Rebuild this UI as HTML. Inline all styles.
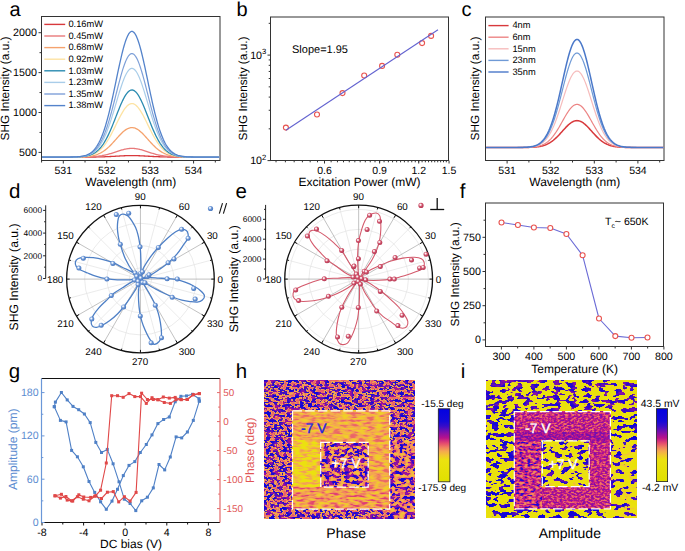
<!DOCTYPE html><html><head><meta charset="utf-8"><style>html,body{margin:0;padding:0;background:#fff;overflow:hidden}svg{display:block}</style></head><body><svg text-rendering="geometricPrecision" width="685" height="551" viewBox="0 0 685 551" font-family='"Liberation Sans", sans-serif'><rect width="685" height="551" fill="#fff"/>
<rect x="41.5" y="16.5" width="178.5" height="144" fill="none" stroke="#333" stroke-width="1" />
<line x1="63.3" y1="160.5" x2="63.3" y2="163.5" stroke="#333" stroke-width="1" />
<text x="63.3" y="174.1" font-size="10.5" text-anchor="middle" fill="#000" >531</text>
<line x1="106.73" y1="160.5" x2="106.73" y2="163.5" stroke="#333" stroke-width="1" />
<text x="106.73" y="174.1" font-size="10.5" text-anchor="middle" fill="#000" >532</text>
<line x1="150.16" y1="160.5" x2="150.16" y2="163.5" stroke="#333" stroke-width="1" />
<text x="150.16" y="174.1" font-size="10.5" text-anchor="middle" fill="#000" >533</text>
<line x1="193.59" y1="160.5" x2="193.59" y2="163.5" stroke="#333" stroke-width="1" />
<text x="193.59" y="174.1" font-size="10.5" text-anchor="middle" fill="#000" >534</text>
<line x1="41.58" y1="160.5" x2="41.58" y2="162.5" stroke="#333" stroke-width="1" />
<line x1="85.02" y1="160.5" x2="85.02" y2="162.5" stroke="#333" stroke-width="1" />
<line x1="128.44" y1="160.5" x2="128.44" y2="162.5" stroke="#333" stroke-width="1" />
<line x1="171.88" y1="160.5" x2="171.88" y2="162.5" stroke="#333" stroke-width="1" />
<line x1="215.31" y1="160.5" x2="215.31" y2="162.5" stroke="#333" stroke-width="1" />
<line x1="38.5" y1="152.4" x2="41.5" y2="152.4" stroke="#333" stroke-width="1" />
<text x="36.9" y="155.8" font-size="10.7" text-anchor="end" fill="#000" >500</text>
<line x1="38.5" y1="112.5" x2="41.5" y2="112.5" stroke="#333" stroke-width="1" />
<text x="36.9" y="115.9" font-size="10.7" text-anchor="end" fill="#000" >1000</text>
<line x1="38.5" y1="72.6" x2="41.5" y2="72.6" stroke="#333" stroke-width="1" />
<text x="36.9" y="76" font-size="10.7" text-anchor="end" fill="#000" >1500</text>
<line x1="38.5" y1="32.7" x2="41.5" y2="32.7" stroke="#333" stroke-width="1" />
<text x="36.9" y="36.1" font-size="10.7" text-anchor="end" fill="#000" >2000</text>
<line x1="39.5" y1="132.45" x2="41.5" y2="132.45" stroke="#333" stroke-width="1" />
<line x1="39.5" y1="92.55" x2="41.5" y2="92.55" stroke="#333" stroke-width="1" />
<line x1="39.5" y1="52.65" x2="41.5" y2="52.65" stroke="#333" stroke-width="1" />
<text x="130.75" y="186.3" font-size="12" text-anchor="middle" fill="#000" >Wavelength (nm)</text>
<text transform="translate(9.1,140.5) rotate(-90)" font-size="11.85" fill="#000">SHG Intensity (a.u.)</text>
<text x="9.5" y="15.5" font-size="20" text-anchor="start" fill="#000" >a</text>
<polyline points="42.1,157.1 42.84,157.1 43.58,157.1 44.32,157.1 45.05,157.1 45.79,157.1 46.53,157.1 47.27,157.1 48.01,157.1 48.75,157.1 49.49,157.1 50.23,157.1 50.97,157.1 51.7,157.1 52.44,157.1 53.18,157.1 53.92,157.1 54.66,157.1 55.4,157.1 56.14,157.1 56.88,157.1 57.61,157.1 58.35,157.1 59.09,157.1 59.83,157.1 60.57,157.1 61.31,157.1 62.05,157.1 62.79,157.1 63.52,157.1 64.26,157.1 65,157.1 65.74,157.1 66.48,157.1 67.22,157.1 67.96,157.1 68.7,157.1 69.43,157.1 70.17,157.1 70.91,157.1 71.65,157.1 72.39,157.1 73.13,157.1 73.87,157.1 74.61,157.1 75.34,157.1 76.08,157.1 76.82,157.1 77.56,157.1 78.3,157.1 79.04,157.09 79.78,157.09 80.52,157.09 81.25,157.09 81.99,157.09 82.73,157.09 83.47,157.09 84.21,157.08 84.95,157.08 85.69,157.08 86.43,157.08 87.16,157.07 87.9,157.07 88.64,157.06 89.38,157.06 90.12,157.05 90.86,157.05 91.6,157.04 92.34,157.03 93.07,157.03 93.81,157.02 94.55,157.01 95.29,157 96.03,156.98 96.77,156.97 97.51,156.96 98.25,156.94 98.98,156.93 99.72,156.91 100.46,156.89 101.2,156.87 101.94,156.85 102.68,156.83 103.42,156.8 104.16,156.78 104.89,156.75 105.63,156.72 106.37,156.69 107.11,156.66 107.85,156.63 108.59,156.59 109.33,156.56 110.06,156.52 110.8,156.48 111.54,156.44 112.28,156.4 113.02,156.36 113.76,156.32 114.5,156.28 115.24,156.24 115.97,156.2 116.71,156.15 117.45,156.11 118.19,156.07 118.93,156.03 119.67,155.99 120.41,155.95 121.15,155.91 121.89,155.87 122.62,155.84 123.36,155.8 124.1,155.77 124.84,155.74 125.58,155.72 126.32,155.69 127.06,155.67 127.8,155.65 128.53,155.63 129.27,155.62 130.01,155.61 130.75,155.6 131.49,155.6 132.23,155.6 132.97,155.6 133.71,155.61 134.44,155.62 135.18,155.63 135.92,155.65 136.66,155.67 137.4,155.69 138.14,155.71 138.88,155.74 139.62,155.77 140.35,155.8 141.09,155.83 141.83,155.87 142.57,155.9 143.31,155.94 144.05,155.98 144.79,156.02 145.53,156.06 146.26,156.1 147,156.15 147.74,156.19 148.48,156.23 149.22,156.27 149.96,156.31 150.7,156.36 151.44,156.4 152.17,156.44 152.91,156.48 153.65,156.51 154.39,156.55 155.13,156.59 155.87,156.62 156.61,156.65 157.35,156.69 158.08,156.72 158.82,156.74 159.56,156.77 160.3,156.8 161.04,156.82 161.78,156.85 162.52,156.87 163.25,156.89 163.99,156.91 164.73,156.92 165.47,156.94 166.21,156.96 166.95,156.97 167.69,156.98 168.43,156.99 169.17,157.01 169.9,157.02 170.64,157.02 171.38,157.03 172.12,157.04 172.86,157.05 173.6,157.05 174.34,157.06 175.08,157.06 175.81,157.07 176.55,157.07 177.29,157.08 178.03,157.08 178.77,157.08 179.51,157.08 180.25,157.09 180.99,157.09 181.72,157.09 182.46,157.09 183.2,157.09 183.94,157.09 184.68,157.09 185.42,157.09 186.16,157.1 186.9,157.1 187.63,157.1 188.37,157.1 189.11,157.1 189.85,157.1 190.59,157.1 191.33,157.1 192.07,157.1 192.81,157.1 193.54,157.1 194.28,157.1 195.02,157.1 195.76,157.1 196.5,157.1 197.24,157.1 197.98,157.1 198.72,157.1 199.45,157.1 200.19,157.1 200.93,157.1 201.67,157.1 202.41,157.1 203.15,157.1 203.89,157.1 204.62,157.1 205.36,157.1 206.1,157.1 206.84,157.1 207.58,157.1 208.32,157.1 209.06,157.1 209.8,157.1 210.53,157.1 211.27,157.1 212.01,157.1 212.75,157.1 213.49,157.1 214.23,157.1 214.97,157.1 215.71,157.1 216.44,157.1 217.18,157.1 217.92,157.1 218.66,157.1 219.4,157.1" fill="none" stroke="#d8393c" stroke-width="1.3" stroke-linejoin="round" />
<polyline points="42.1,157.1 42.84,157.1 43.58,157.1 44.32,157.1 45.05,157.1 45.79,157.1 46.53,157.1 47.27,157.1 48.01,157.1 48.75,157.1 49.49,157.1 50.23,157.1 50.97,157.1 51.7,157.1 52.44,157.1 53.18,157.1 53.92,157.1 54.66,157.1 55.4,157.1 56.14,157.1 56.88,157.1 57.61,157.1 58.35,157.1 59.09,157.1 59.83,157.1 60.57,157.1 61.31,157.1 62.05,157.1 62.79,157.1 63.52,157.1 64.26,157.1 65,157.1 65.74,157.1 66.48,157.1 67.22,157.1 67.96,157.1 68.7,157.1 69.43,157.1 70.17,157.1 70.91,157.09 71.65,157.09 72.39,157.09 73.13,157.09 73.87,157.09 74.61,157.09 75.34,157.09 76.08,157.08 76.82,157.08 77.56,157.08 78.3,157.07 79.04,157.07 79.78,157.06 80.52,157.05 81.25,157.05 81.99,157.04 82.73,157.03 83.47,157.02 84.21,157.01 84.95,156.99 85.69,156.98 86.43,156.96 87.16,156.94 87.9,156.92 88.64,156.89 89.38,156.86 90.12,156.83 90.86,156.8 91.6,156.76 92.34,156.71 93.07,156.67 93.81,156.62 94.55,156.56 95.29,156.5 96.03,156.43 96.77,156.36 97.51,156.28 98.25,156.19 98.98,156.1 99.72,155.99 100.46,155.89 101.2,155.77 101.94,155.65 102.68,155.51 103.42,155.37 104.16,155.22 104.89,155.07 105.63,154.9 106.37,154.73 107.11,154.54 107.85,154.35 108.59,154.15 109.33,153.95 110.06,153.74 110.8,153.52 111.54,153.29 112.28,153.06 113.02,152.83 113.76,152.59 114.5,152.34 115.24,152.1 115.97,151.85 116.71,151.61 117.45,151.36 118.19,151.12 118.93,150.88 119.67,150.65 120.41,150.42 121.15,150.19 121.89,149.98 122.62,149.77 123.36,149.58 124.1,149.4 124.84,149.23 125.58,149.07 126.32,148.93 127.06,148.8 127.8,148.69 128.53,148.6 129.27,148.52 130.01,148.46 130.75,148.42 131.49,148.4 132.23,148.4 132.97,148.42 133.71,148.46 134.44,148.51 135.18,148.58 135.92,148.67 136.66,148.78 137.4,148.9 138.14,149.04 138.88,149.2 139.62,149.37 140.35,149.55 141.09,149.74 141.83,149.94 142.57,150.16 143.31,150.38 144.05,150.61 144.79,150.84 145.53,151.08 146.26,151.32 147,151.57 147.74,151.81 148.48,152.06 149.22,152.3 149.96,152.55 150.7,152.79 151.44,153.02 152.17,153.25 152.91,153.48 153.65,153.7 154.39,153.91 155.13,154.12 155.87,154.32 156.61,154.51 157.35,154.7 158.08,154.87 158.82,155.04 159.56,155.2 160.3,155.35 161.04,155.49 161.78,155.62 162.52,155.75 163.25,155.87 163.99,155.98 164.73,156.08 165.47,156.17 166.21,156.26 166.95,156.34 167.69,156.42 168.43,156.49 169.17,156.55 169.9,156.61 170.64,156.66 171.38,156.71 172.12,156.75 172.86,156.79 173.6,156.83 174.34,156.86 175.08,156.89 175.81,156.91 176.55,156.93 177.29,156.96 178.03,156.97 178.77,156.99 179.51,157 180.25,157.02 180.99,157.03 181.72,157.04 182.46,157.05 183.2,157.05 183.94,157.06 184.68,157.07 185.42,157.07 186.16,157.08 186.9,157.08 187.63,157.08 188.37,157.08 189.11,157.09 189.85,157.09 190.59,157.09 191.33,157.09 192.07,157.09 192.81,157.09 193.54,157.1 194.28,157.1 195.02,157.1 195.76,157.1 196.5,157.1 197.24,157.1 197.98,157.1 198.72,157.1 199.45,157.1 200.19,157.1 200.93,157.1 201.67,157.1 202.41,157.1 203.15,157.1 203.89,157.1 204.62,157.1 205.36,157.1 206.1,157.1 206.84,157.1 207.58,157.1 208.32,157.1 209.06,157.1 209.8,157.1 210.53,157.1 211.27,157.1 212.01,157.1 212.75,157.1 213.49,157.1 214.23,157.1 214.97,157.1 215.71,157.1 216.44,157.1 217.18,157.1 217.92,157.1 218.66,157.1 219.4,157.1" fill="none" stroke="#e8797a" stroke-width="1.3" stroke-linejoin="round" />
<polyline points="42.1,157.1 42.84,157.1 43.58,157.1 44.32,157.1 45.05,157.1 45.79,157.1 46.53,157.1 47.27,157.1 48.01,157.1 48.75,157.1 49.49,157.1 50.23,157.1 50.97,157.1 51.7,157.1 52.44,157.1 53.18,157.1 53.92,157.1 54.66,157.1 55.4,157.1 56.14,157.1 56.88,157.1 57.61,157.1 58.35,157.1 59.09,157.1 59.83,157.1 60.57,157.1 61.31,157.1 62.05,157.1 62.79,157.1 63.52,157.1 64.26,157.1 65,157.1 65.74,157.1 66.48,157.09 67.22,157.09 67.96,157.09 68.7,157.09 69.43,157.09 70.17,157.09 70.91,157.08 71.65,157.08 72.39,157.07 73.13,157.07 73.87,157.06 74.61,157.06 75.34,157.05 76.08,157.04 76.82,157.03 77.56,157.02 78.3,157 79.04,156.99 79.78,156.97 80.52,156.95 81.25,156.92 81.99,156.89 82.73,156.86 83.47,156.82 84.21,156.78 84.95,156.73 85.69,156.68 86.43,156.62 87.16,156.55 87.9,156.48 88.64,156.39 89.38,156.29 90.12,156.19 90.86,156.07 91.6,155.94 92.34,155.79 93.07,155.64 93.81,155.46 94.55,155.27 95.29,155.06 96.03,154.83 96.77,154.58 97.51,154.3 98.25,154.01 98.98,153.69 99.72,153.35 100.46,152.98 101.2,152.59 101.94,152.17 102.68,151.72 103.42,151.24 104.16,150.74 104.89,150.2 105.63,149.64 106.37,149.05 107.11,148.43 107.85,147.79 108.59,147.11 109.33,146.42 110.06,145.7 110.8,144.95 111.54,144.19 112.28,143.41 113.02,142.61 113.76,141.8 114.5,140.97 115.24,140.14 115.97,139.31 116.71,138.48 117.45,137.65 118.19,136.82 118.93,136.01 119.67,135.22 120.41,134.44 121.15,133.68 121.89,132.96 122.62,132.26 123.36,131.6 124.1,130.98 124.84,130.4 125.58,129.87 126.32,129.39 127.06,128.96 127.8,128.58 128.53,128.27 129.27,128.01 130.01,127.81 130.75,127.68 131.49,127.61 132.23,127.61 132.97,127.66 133.71,127.79 134.44,127.97 135.18,128.22 135.92,128.53 136.66,128.89 137.4,129.31 138.14,129.78 138.88,130.31 139.62,130.88 140.35,131.49 141.09,132.15 141.83,132.84 142.57,133.56 143.31,134.31 144.05,135.09 144.79,135.88 145.53,136.69 146.26,137.51 147,138.34 147.74,139.17 148.48,140.01 149.22,140.84 149.96,141.66 150.7,142.47 151.44,143.27 152.17,144.06 152.91,144.83 153.65,145.57 154.39,146.3 155.13,147 155.87,147.68 156.61,148.33 157.35,148.95 158.08,149.54 158.82,150.11 159.56,150.65 160.3,151.16 161.04,151.64 161.78,152.09 162.52,152.52 163.25,152.92 163.99,153.29 164.73,153.64 165.47,153.96 166.21,154.26 166.95,154.53 167.69,154.79 168.43,155.02 169.17,155.23 169.9,155.43 170.64,155.61 171.38,155.77 172.12,155.92 172.86,156.05 173.6,156.17 174.34,156.28 175.08,156.37 175.81,156.46 176.55,156.54 177.29,156.61 178.03,156.67 178.77,156.73 179.51,156.77 180.25,156.82 180.99,156.85 181.72,156.89 182.46,156.92 183.2,156.94 183.94,156.96 184.68,156.98 185.42,157 186.16,157.02 186.9,157.03 187.63,157.04 188.37,157.05 189.11,157.06 189.85,157.06 190.59,157.07 191.33,157.07 192.07,157.08 192.81,157.08 193.54,157.08 194.28,157.09 195.02,157.09 195.76,157.09 196.5,157.09 197.24,157.09 197.98,157.09 198.72,157.1 199.45,157.1 200.19,157.1 200.93,157.1 201.67,157.1 202.41,157.1 203.15,157.1 203.89,157.1 204.62,157.1 205.36,157.1 206.1,157.1 206.84,157.1 207.58,157.1 208.32,157.1 209.06,157.1 209.8,157.1 210.53,157.1 211.27,157.1 212.01,157.1 212.75,157.1 213.49,157.1 214.23,157.1 214.97,157.1 215.71,157.1 216.44,157.1 217.18,157.1 217.92,157.1 218.66,157.1 219.4,157.1" fill="none" stroke="#f5a36e" stroke-width="1.3" stroke-linejoin="round" />
<polyline points="42.1,157.1 42.84,157.1 43.58,157.1 44.32,157.1 45.05,157.1 45.79,157.1 46.53,157.1 47.27,157.1 48.01,157.1 48.75,157.1 49.49,157.1 50.23,157.1 50.97,157.1 51.7,157.1 52.44,157.1 53.18,157.1 53.92,157.1 54.66,157.1 55.4,157.1 56.14,157.1 56.88,157.1 57.61,157.1 58.35,157.1 59.09,157.1 59.83,157.1 60.57,157.1 61.31,157.1 62.05,157.1 62.79,157.1 63.52,157.1 64.26,157.09 65,157.09 65.74,157.09 66.48,157.09 67.22,157.09 67.96,157.08 68.7,157.08 69.43,157.08 70.17,157.07 70.91,157.07 71.65,157.06 72.39,157.05 73.13,157.04 73.87,157.03 74.61,157.02 75.34,157.01 76.08,156.99 76.82,156.97 77.56,156.95 78.3,156.92 79.04,156.89 79.78,156.86 80.52,156.82 81.25,156.78 81.99,156.72 82.73,156.67 83.47,156.6 84.21,156.52 84.95,156.44 85.69,156.34 86.43,156.23 87.16,156.11 87.9,155.97 88.64,155.81 89.38,155.64 90.12,155.45 90.86,155.23 91.6,154.99 92.34,154.73 93.07,154.44 93.81,154.12 94.55,153.78 95.29,153.39 96.03,152.98 96.77,152.52 97.51,152.03 98.25,151.5 98.98,150.92 99.72,150.3 100.46,149.63 101.2,148.92 101.94,148.15 102.68,147.34 103.42,146.48 104.16,145.56 104.89,144.59 105.63,143.57 106.37,142.5 107.11,141.38 107.85,140.21 108.59,138.99 109.33,137.72 110.06,136.42 110.8,135.07 111.54,133.68 112.28,132.26 113.02,130.82 113.76,129.34 114.5,127.85 115.24,126.35 115.97,124.84 116.71,123.33 117.45,121.82 118.19,120.33 118.93,118.86 119.67,117.41 120.41,116 121.15,114.63 121.89,113.31 122.62,112.05 123.36,110.85 124.1,109.73 124.84,108.68 125.58,107.71 126.32,106.84 127.06,106.06 127.8,105.38 128.53,104.81 129.27,104.34 130.01,103.99 130.75,103.75 131.49,103.62 132.23,103.61 132.97,103.72 133.71,103.94 134.44,104.27 135.18,104.72 135.92,105.28 136.66,105.94 137.4,106.7 138.14,107.56 138.88,108.51 139.62,109.55 140.35,110.66 141.09,111.85 141.83,113.1 142.57,114.41 143.31,115.77 144.05,117.17 144.79,118.62 145.53,120.08 146.26,121.57 147,123.08 147.74,124.59 148.48,126.1 149.22,127.61 149.96,129.1 150.7,130.57 151.44,132.03 152.17,133.45 152.91,134.84 153.65,136.2 154.39,137.51 155.13,138.78 155.87,140.01 156.61,141.19 157.35,142.32 158.08,143.4 158.82,144.43 159.56,145.4 160.3,146.33 161.04,147.2 161.78,148.02 162.52,148.79 163.25,149.52 163.99,150.19 164.73,150.82 165.47,151.4 166.21,151.94 166.95,152.44 167.69,152.9 168.43,153.33 169.17,153.71 169.9,154.07 170.64,154.39 171.38,154.69 172.12,154.95 172.86,155.19 173.6,155.41 174.34,155.61 175.08,155.78 175.81,155.94 176.55,156.08 177.29,156.21 178.03,156.32 178.77,156.42 179.51,156.51 180.25,156.59 180.99,156.66 181.72,156.72 182.46,156.77 183.2,156.81 183.94,156.85 184.68,156.89 185.42,156.92 186.16,156.95 186.9,156.97 187.63,156.99 188.37,157.01 189.11,157.02 189.85,157.03 190.59,157.04 191.33,157.05 192.07,157.06 192.81,157.07 193.54,157.07 194.28,157.08 195.02,157.08 195.76,157.08 196.5,157.09 197.24,157.09 197.98,157.09 198.72,157.09 199.45,157.09 200.19,157.09 200.93,157.1 201.67,157.1 202.41,157.1 203.15,157.1 203.89,157.1 204.62,157.1 205.36,157.1 206.1,157.1 206.84,157.1 207.58,157.1 208.32,157.1 209.06,157.1 209.8,157.1 210.53,157.1 211.27,157.1 212.01,157.1 212.75,157.1 213.49,157.1 214.23,157.1 214.97,157.1 215.71,157.1 216.44,157.1 217.18,157.1 217.92,157.1 218.66,157.1 219.4,157.1" fill="none" stroke="#fde3a3" stroke-width="1.3" stroke-linejoin="round" />
<polyline points="42.1,157.1 42.84,157.1 43.58,157.1 44.32,157.1 45.05,157.1 45.79,157.1 46.53,157.1 47.27,157.1 48.01,157.1 48.75,157.1 49.49,157.1 50.23,157.1 50.97,157.1 51.7,157.1 52.44,157.1 53.18,157.1 53.92,157.1 54.66,157.1 55.4,157.1 56.14,157.1 56.88,157.1 57.61,157.1 58.35,157.1 59.09,157.1 59.83,157.1 60.57,157.1 61.31,157.1 62.05,157.1 62.79,157.1 63.52,157.09 64.26,157.09 65,157.09 65.74,157.09 66.48,157.09 67.22,157.08 67.96,157.08 68.7,157.08 69.43,157.07 70.17,157.07 70.91,157.06 71.65,157.05 72.39,157.04 73.13,157.03 73.87,157.02 74.61,157 75.34,156.98 76.08,156.96 76.82,156.94 77.56,156.91 78.3,156.88 79.04,156.84 79.78,156.8 80.52,156.75 81.25,156.69 81.99,156.63 82.73,156.56 83.47,156.47 84.21,156.38 84.95,156.27 85.69,156.15 86.43,156.01 87.16,155.85 87.9,155.68 88.64,155.49 89.38,155.27 90.12,155.03 90.86,154.76 91.6,154.46 92.34,154.13 93.07,153.77 93.81,153.37 94.55,152.93 95.29,152.45 96.03,151.93 96.77,151.36 97.51,150.74 98.25,150.07 98.98,149.35 99.72,148.57 100.46,147.73 101.2,146.84 101.94,145.88 102.68,144.86 103.42,143.78 104.16,142.63 104.89,141.41 105.63,140.13 106.37,138.79 107.11,137.38 107.85,135.91 108.59,134.39 109.33,132.8 110.06,131.16 110.8,129.47 111.54,127.73 112.28,125.95 113.02,124.13 113.76,122.29 114.5,120.42 115.24,118.53 115.97,116.64 116.71,114.74 117.45,112.86 118.19,110.98 118.93,109.14 119.67,107.32 120.41,105.55 121.15,103.84 121.89,102.18 122.62,100.6 123.36,99.1 124.1,97.68 124.84,96.37 125.58,95.16 126.32,94.06 127.06,93.08 127.8,92.23 128.53,91.51 129.27,90.93 130.01,90.48 130.75,90.18 131.49,90.02 132.23,90.01 132.97,90.15 133.71,90.42 134.44,90.85 135.18,91.41 135.92,92.1 136.66,92.93 137.4,93.89 138.14,94.97 138.88,96.16 139.62,97.46 140.35,98.86 141.09,100.34 141.83,101.91 142.57,103.56 143.31,105.26 144.05,107.03 144.79,108.83 145.53,110.67 146.26,112.54 147,114.43 147.74,116.32 148.48,118.22 149.22,120.11 149.96,121.98 150.7,123.83 151.44,125.65 152.17,127.44 152.91,129.18 153.65,130.88 154.39,132.53 155.13,134.13 155.87,135.67 156.61,137.14 157.35,138.56 158.08,139.92 158.82,141.2 159.56,142.43 160.3,143.59 161.04,144.68 161.78,145.72 162.52,146.68 163.25,147.59 163.99,148.44 164.73,149.22 165.47,149.96 166.21,150.63 166.95,151.26 167.69,151.84 168.43,152.37 169.17,152.85 169.9,153.3 170.64,153.7 171.38,154.07 172.12,154.41 172.86,154.71 173.6,154.98 174.34,155.23 175.08,155.45 175.81,155.65 176.55,155.83 177.29,155.98 178.03,156.12 178.77,156.25 179.51,156.36 180.25,156.46 180.99,156.54 181.72,156.62 182.46,156.68 183.2,156.74 183.94,156.79 184.68,156.84 185.42,156.87 186.16,156.91 186.9,156.94 187.63,156.96 188.37,156.98 189.11,157 189.85,157.02 190.59,157.03 191.33,157.04 192.07,157.05 192.81,157.06 193.54,157.06 194.28,157.07 195.02,157.08 195.76,157.08 196.5,157.08 197.24,157.09 197.98,157.09 198.72,157.09 199.45,157.09 200.19,157.09 200.93,157.09 201.67,157.1 202.41,157.1 203.15,157.1 203.89,157.1 204.62,157.1 205.36,157.1 206.1,157.1 206.84,157.1 207.58,157.1 208.32,157.1 209.06,157.1 209.8,157.1 210.53,157.1 211.27,157.1 212.01,157.1 212.75,157.1 213.49,157.1 214.23,157.1 214.97,157.1 215.71,157.1 216.44,157.1 217.18,157.1 217.92,157.1 218.66,157.1 219.4,157.1" fill="none" stroke="#2a8bb0" stroke-width="1.3" stroke-linejoin="round" />
<polyline points="42.1,157.1 42.84,157.1 43.58,157.1 44.32,157.1 45.05,157.1 45.79,157.1 46.53,157.1 47.27,157.1 48.01,157.1 48.75,157.1 49.49,157.1 50.23,157.1 50.97,157.1 51.7,157.1 52.44,157.1 53.18,157.1 53.92,157.1 54.66,157.1 55.4,157.1 56.14,157.1 56.88,157.1 57.61,157.1 58.35,157.1 59.09,157.1 59.83,157.1 60.57,157.1 61.31,157.1 62.05,157.09 62.79,157.09 63.52,157.09 64.26,157.09 65,157.09 65.74,157.09 66.48,157.08 67.22,157.08 67.96,157.07 68.7,157.07 69.43,157.06 70.17,157.06 70.91,157.05 71.65,157.04 72.39,157.02 73.13,157.01 73.87,156.99 74.61,156.97 75.34,156.95 76.08,156.92 76.82,156.89 77.56,156.85 78.3,156.81 79.04,156.76 79.78,156.7 80.52,156.64 81.25,156.56 81.99,156.48 82.73,156.38 83.47,156.27 84.21,156.14 84.95,156 85.69,155.84 86.43,155.66 87.16,155.45 87.9,155.22 88.64,154.97 89.38,154.68 90.12,154.36 90.86,154 91.6,153.61 92.34,153.17 93.07,152.7 93.81,152.17 94.55,151.59 95.29,150.96 96.03,150.26 96.77,149.51 97.51,148.69 98.25,147.81 98.98,146.85 99.72,145.83 100.46,144.72 101.2,143.53 101.94,142.27 102.68,140.92 103.42,139.49 104.16,137.97 104.89,136.36 105.63,134.67 106.37,132.9 107.11,131.04 107.85,129.09 108.59,127.07 109.33,124.98 110.06,122.81 110.8,120.57 111.54,118.27 112.28,115.92 113.02,113.52 113.76,111.08 114.5,108.61 115.24,106.12 115.97,103.61 116.71,101.11 117.45,98.61 118.19,96.14 118.93,93.7 119.67,91.3 120.41,88.96 121.15,86.69 121.89,84.5 122.62,82.41 123.36,80.43 124.1,78.56 124.84,76.82 125.58,75.22 126.32,73.77 127.06,72.48 127.8,71.35 128.53,70.4 129.27,69.63 130.01,69.04 130.75,68.64 131.49,68.43 132.23,68.42 132.97,68.59 133.71,68.96 134.44,69.52 135.18,70.26 135.92,71.18 136.66,72.28 137.4,73.54 138.14,74.97 138.88,76.54 139.62,78.26 140.35,80.11 141.09,82.07 141.83,84.15 142.57,86.32 143.31,88.58 144.05,90.91 144.79,93.29 145.53,95.73 146.26,98.2 147,100.69 147.74,103.2 148.48,105.7 149.22,108.2 149.96,110.67 150.7,113.12 151.44,115.53 152.17,117.89 152.91,120.2 153.65,122.44 154.39,124.62 155.13,126.73 155.87,128.76 156.61,130.72 157.35,132.59 158.08,134.38 158.82,136.09 159.56,137.71 160.3,139.24 161.04,140.69 161.78,142.05 162.52,143.33 163.25,144.53 163.99,145.65 164.73,146.69 165.47,147.66 166.21,148.55 166.95,149.38 167.69,150.14 168.43,150.84 169.17,151.49 169.9,152.08 170.64,152.61 171.38,153.1 172.12,153.54 172.86,153.94 173.6,154.3 174.34,154.63 175.08,154.92 175.81,155.18 176.55,155.42 177.29,155.62 178.03,155.81 178.77,155.97 179.51,156.12 180.25,156.25 180.99,156.36 181.72,156.46 182.46,156.55 183.2,156.63 183.94,156.69 184.68,156.75 185.42,156.8 186.16,156.85 186.9,156.88 187.63,156.92 188.37,156.94 189.11,156.97 189.85,156.99 190.59,157.01 191.33,157.02 192.07,157.03 192.81,157.04 193.54,157.05 194.28,157.06 195.02,157.07 195.76,157.07 196.5,157.08 197.24,157.08 197.98,157.08 198.72,157.09 199.45,157.09 200.19,157.09 200.93,157.09 201.67,157.09 202.41,157.1 203.15,157.1 203.89,157.1 204.62,157.1 205.36,157.1 206.1,157.1 206.84,157.1 207.58,157.1 208.32,157.1 209.06,157.1 209.8,157.1 210.53,157.1 211.27,157.1 212.01,157.1 212.75,157.1 213.49,157.1 214.23,157.1 214.97,157.1 215.71,157.1 216.44,157.1 217.18,157.1 217.92,157.1 218.66,157.1 219.4,157.1" fill="none" stroke="#a9cde9" stroke-width="1.2" stroke-linejoin="round" />
<polyline points="42.1,157.1 42.84,157.1 43.58,157.1 44.32,157.1 45.05,157.1 45.79,157.1 46.53,157.1 47.27,157.1 48.01,157.1 48.75,157.1 49.49,157.1 50.23,157.1 50.97,157.1 51.7,157.1 52.44,157.1 53.18,157.1 53.92,157.1 54.66,157.1 55.4,157.1 56.14,157.1 56.88,157.1 57.61,157.1 58.35,157.1 59.09,157.1 59.83,157.1 60.57,157.1 61.31,157.09 62.05,157.09 62.79,157.09 63.52,157.09 64.26,157.09 65,157.09 65.74,157.08 66.48,157.08 67.22,157.08 67.96,157.07 68.7,157.06 69.43,157.06 70.17,157.05 70.91,157.04 71.65,157.02 72.39,157.01 73.13,156.99 73.87,156.97 74.61,156.95 75.34,156.92 76.08,156.89 76.82,156.85 77.56,156.81 78.3,156.76 79.04,156.7 79.78,156.64 80.52,156.56 81.25,156.47 81.99,156.37 82.73,156.26 83.47,156.13 84.21,155.98 84.95,155.82 85.69,155.63 86.43,155.42 87.16,155.18 87.9,154.91 88.64,154.61 89.38,154.27 90.12,153.9 90.86,153.49 91.6,153.03 92.34,152.52 93.07,151.96 93.81,151.34 94.55,150.67 95.29,149.93 96.03,149.12 96.77,148.25 97.51,147.29 98.25,146.26 98.98,145.15 99.72,143.94 100.46,142.65 101.2,141.27 101.94,139.79 102.68,138.22 103.42,136.55 104.16,134.77 104.89,132.9 105.63,130.93 106.37,128.86 107.11,126.69 107.85,124.42 108.59,122.06 109.33,119.62 110.06,117.09 110.8,114.48 111.54,111.8 112.28,109.05 113.02,106.25 113.76,103.4 114.5,100.52 115.24,97.61 115.97,94.69 116.71,91.77 117.45,88.85 118.19,85.97 118.93,83.12 119.67,80.32 120.41,77.59 121.15,74.94 121.89,72.39 122.62,69.95 123.36,67.63 124.1,65.45 124.84,63.42 125.58,61.56 126.32,59.87 127.06,58.36 127.8,57.04 128.53,55.93 129.27,55.03 130.01,54.35 130.75,53.88 131.49,53.64 132.23,53.62 132.97,53.83 133.71,54.25 134.44,54.9 135.18,55.77 135.92,56.85 136.66,58.13 137.4,59.6 138.14,61.26 138.88,63.1 139.62,65.11 140.35,67.26 141.09,69.56 141.83,71.98 142.57,74.51 143.31,77.15 144.05,79.86 144.79,82.65 145.53,85.49 146.26,88.37 147,91.28 147.74,94.2 148.48,97.13 149.22,100.04 149.96,102.93 150.7,105.78 151.44,108.59 152.17,111.35 152.91,114.04 153.65,116.66 154.39,119.2 155.13,121.66 155.87,124.04 156.61,126.32 157.35,128.5 158.08,130.59 158.82,132.58 159.56,134.47 160.3,136.26 161.04,137.95 161.78,139.54 162.52,141.03 163.25,142.43 163.99,143.74 164.73,144.95 165.47,146.08 166.21,147.13 166.95,148.09 167.69,148.98 168.43,149.8 169.17,150.55 169.9,151.24 170.64,151.86 171.38,152.43 172.12,152.95 172.86,153.41 173.6,153.84 174.34,154.21 175.08,154.56 175.81,154.86 176.55,155.13 177.29,155.38 178.03,155.59 178.77,155.79 179.51,155.96 180.25,156.11 180.99,156.24 181.72,156.36 182.46,156.46 183.2,156.55 183.94,156.63 184.68,156.69 185.42,156.75 186.16,156.8 186.9,156.85 187.63,156.88 188.37,156.92 189.11,156.95 189.85,156.97 190.59,156.99 191.33,157.01 192.07,157.02 192.81,157.04 193.54,157.05 194.28,157.05 195.02,157.06 195.76,157.07 196.5,157.07 197.24,157.08 197.98,157.08 198.72,157.09 199.45,157.09 200.19,157.09 200.93,157.09 201.67,157.09 202.41,157.09 203.15,157.1 203.89,157.1 204.62,157.1 205.36,157.1 206.1,157.1 206.84,157.1 207.58,157.1 208.32,157.1 209.06,157.1 209.8,157.1 210.53,157.1 211.27,157.1 212.01,157.1 212.75,157.1 213.49,157.1 214.23,157.1 214.97,157.1 215.71,157.1 216.44,157.1 217.18,157.1 217.92,157.1 218.66,157.1 219.4,157.1" fill="none" stroke="#7ea0d8" stroke-width="1.2" stroke-linejoin="round" />
<polyline points="42.1,157.1 42.84,157.1 43.58,157.1 44.32,157.1 45.05,157.1 45.79,157.1 46.53,157.1 47.27,157.1 48.01,157.1 48.75,157.1 49.49,157.1 50.23,157.1 50.97,157.1 51.7,157.1 52.44,157.1 53.18,157.1 53.92,157.1 54.66,157.1 55.4,157.1 56.14,157.1 56.88,157.1 57.61,157.1 58.35,157.1 59.09,157.1 59.83,157.1 60.57,157.09 61.31,157.09 62.05,157.09 62.79,157.09 63.52,157.09 64.26,157.09 65,157.08 65.74,157.08 66.48,157.07 67.22,157.07 67.96,157.06 68.7,157.06 69.43,157.05 70.17,157.04 70.91,157.02 71.65,157.01 72.39,156.99 73.13,156.97 73.87,156.95 74.61,156.92 75.34,156.88 76.08,156.85 76.82,156.8 77.56,156.75 78.3,156.69 79.04,156.62 79.78,156.54 80.52,156.45 81.25,156.34 81.99,156.22 82.73,156.08 83.47,155.92 84.21,155.74 84.95,155.54 85.69,155.31 86.43,155.05 87.16,154.76 87.9,154.44 88.64,154.07 89.38,153.67 90.12,153.21 90.86,152.71 91.6,152.15 92.34,151.54 93.07,150.86 93.81,150.11 94.55,149.29 95.29,148.39 96.03,147.41 96.77,146.35 97.51,145.19 98.25,143.94 98.98,142.58 99.72,141.12 100.46,139.55 101.2,137.88 101.94,136.08 102.68,134.17 103.42,132.14 104.16,129.99 104.89,127.71 105.63,125.32 106.37,122.8 107.11,120.16 107.85,117.41 108.59,114.55 109.33,111.58 110.06,108.5 110.8,105.33 111.54,102.08 112.28,98.75 113.02,95.35 113.76,91.89 114.5,88.39 115.24,84.85 115.97,81.3 116.71,77.75 117.45,74.21 118.19,70.71 118.93,67.25 119.67,63.85 120.41,60.54 121.15,57.32 121.89,54.22 122.62,51.26 123.36,48.44 124.1,45.79 124.84,43.33 125.58,41.06 126.32,39.01 127.06,37.18 127.8,35.58 128.53,34.23 129.27,33.14 130.01,32.31 130.75,31.74 131.49,31.45 132.23,31.42 132.97,31.67 133.71,32.19 134.44,32.98 135.18,34.04 135.92,35.34 136.66,36.9 137.4,38.69 138.14,40.71 138.88,42.94 139.62,45.37 140.35,47.99 141.09,50.78 141.83,53.72 142.57,56.8 143.31,60 144.05,63.29 144.79,66.68 145.53,70.13 146.26,73.63 147,77.16 147.74,80.71 148.48,84.27 149.22,87.8 149.96,91.31 150.7,94.78 151.44,98.19 152.17,101.53 152.91,104.8 153.65,107.98 154.39,111.07 155.13,114.06 155.87,116.95 156.61,119.72 157.35,122.37 158.08,124.91 158.82,127.32 159.56,129.62 160.3,131.79 161.04,133.84 161.78,135.77 162.52,137.59 163.25,139.28 163.99,140.87 164.73,142.35 165.47,143.72 166.21,144.99 166.95,146.16 167.69,147.24 168.43,148.24 169.17,149.15 169.9,149.98 170.64,150.74 171.38,151.43 172.12,152.06 172.86,152.62 173.6,153.13 174.34,153.6 175.08,154.01 175.81,154.38 176.55,154.71 177.29,155.01 178.03,155.27 178.77,155.51 179.51,155.71 180.25,155.89 180.99,156.06 181.72,156.2 182.46,156.32 183.2,156.43 183.94,156.52 184.68,156.61 185.42,156.68 186.16,156.74 186.9,156.79 187.63,156.84 188.37,156.88 189.11,156.91 189.85,156.94 190.59,156.97 191.33,156.99 192.07,157.01 192.81,157.02 193.54,157.03 194.28,157.05 195.02,157.05 195.76,157.06 196.5,157.07 197.24,157.07 197.98,157.08 198.72,157.08 199.45,157.09 200.19,157.09 200.93,157.09 201.67,157.09 202.41,157.09 203.15,157.09 203.89,157.1 204.62,157.1 205.36,157.1 206.1,157.1 206.84,157.1 207.58,157.1 208.32,157.1 209.06,157.1 209.8,157.1 210.53,157.1 211.27,157.1 212.01,157.1 212.75,157.1 213.49,157.1 214.23,157.1 214.97,157.1 215.71,157.1 216.44,157.1 217.18,157.1 217.92,157.1 218.66,157.1 219.4,157.1" fill="none" stroke="#5483cb" stroke-width="1.3" stroke-linejoin="round" />
<line x1="44.3" y1="24.4" x2="65.2" y2="24.4" stroke="#d8393c" stroke-width="1.4" />
<text x="68.4" y="27.2" font-size="9.3" text-anchor="start" fill="#000" >0.16mW</text>
<line x1="44.3" y1="36" x2="65.2" y2="36" stroke="#e8797a" stroke-width="1.4" />
<text x="68.4" y="38.8" font-size="9.3" text-anchor="start" fill="#000" >0.45mW</text>
<line x1="44.3" y1="47.6" x2="65.2" y2="47.6" stroke="#f5a36e" stroke-width="1.4" />
<text x="68.4" y="50.4" font-size="9.3" text-anchor="start" fill="#000" >0.68mW</text>
<line x1="44.3" y1="59.2" x2="65.2" y2="59.2" stroke="#fde3a3" stroke-width="1.4" />
<text x="68.4" y="62" font-size="9.3" text-anchor="start" fill="#000" >0.92mW</text>
<line x1="44.3" y1="70.8" x2="65.2" y2="70.8" stroke="#2a8bb0" stroke-width="1.4" />
<text x="68.4" y="73.6" font-size="9.3" text-anchor="start" fill="#000" >1.03mW</text>
<line x1="44.3" y1="82.4" x2="65.2" y2="82.4" stroke="#a9cde9" stroke-width="1.4" />
<text x="68.4" y="85.2" font-size="9.3" text-anchor="start" fill="#000" >1.23mW</text>
<line x1="44.3" y1="94" x2="65.2" y2="94" stroke="#7ea0d8" stroke-width="1.4" />
<text x="68.4" y="96.8" font-size="9.3" text-anchor="start" fill="#000" >1.35mW</text>
<line x1="44.3" y1="105.6" x2="65.2" y2="105.6" stroke="#5483cb" stroke-width="1.4" />
<text x="68.4" y="108.4" font-size="9.3" text-anchor="start" fill="#000" >1.38mW</text>
<rect x="270.5" y="17" width="178" height="143.5" fill="none" stroke="#333" stroke-width="1" />
<line x1="324.5" y1="160.5" x2="324.5" y2="163.5" stroke="#333" stroke-width="1" />
<text x="324.5" y="173.7" font-size="10.5" text-anchor="middle" fill="#000" >0.6</text>
<line x1="379.62" y1="160.5" x2="379.62" y2="163.5" stroke="#333" stroke-width="1" />
<text x="379.62" y="173.7" font-size="10.5" text-anchor="middle" fill="#000" >0.9</text>
<line x1="418.72" y1="160.5" x2="418.72" y2="163.5" stroke="#333" stroke-width="1" />
<text x="418.72" y="173.7" font-size="10.5" text-anchor="middle" fill="#000" >1.2</text>
<line x1="449.06" y1="160.5" x2="449.06" y2="163.5" stroke="#333" stroke-width="1" />
<text x="449.06" y="173.7" font-size="10.5" text-anchor="middle" fill="#000" >1.5</text>
<line x1="276.02" y1="160.5" x2="276.02" y2="162.3" stroke="#333" stroke-width="1" />
<line x1="285.39" y1="160.5" x2="285.39" y2="162.3" stroke="#333" stroke-width="1" />
<line x1="294.17" y1="160.5" x2="294.17" y2="162.3" stroke="#333" stroke-width="1" />
<line x1="302.41" y1="160.5" x2="302.41" y2="162.3" stroke="#333" stroke-width="1" />
<line x1="310.18" y1="160.5" x2="310.18" y2="162.3" stroke="#333" stroke-width="1" />
<line x1="317.53" y1="160.5" x2="317.53" y2="162.3" stroke="#333" stroke-width="1" />
<line x1="324.5" y1="160.5" x2="324.5" y2="162.3" stroke="#333" stroke-width="1" />
<line x1="331.13" y1="160.5" x2="331.13" y2="162.3" stroke="#333" stroke-width="1" />
<line x1="337.46" y1="160.5" x2="337.46" y2="162.3" stroke="#333" stroke-width="1" />
<line x1="343.5" y1="160.5" x2="343.5" y2="162.3" stroke="#333" stroke-width="1" />
<line x1="349.28" y1="160.5" x2="349.28" y2="162.3" stroke="#333" stroke-width="1" />
<line x1="354.83" y1="160.5" x2="354.83" y2="162.3" stroke="#333" stroke-width="1" />
<line x1="360.16" y1="160.5" x2="360.16" y2="162.3" stroke="#333" stroke-width="1" />
<line x1="365.29" y1="160.5" x2="365.29" y2="162.3" stroke="#333" stroke-width="1" />
<line x1="370.24" y1="160.5" x2="370.24" y2="162.3" stroke="#333" stroke-width="1" />
<line x1="375.01" y1="160.5" x2="375.01" y2="162.3" stroke="#333" stroke-width="1" />
<line x1="379.62" y1="160.5" x2="379.62" y2="162.3" stroke="#333" stroke-width="1" />
<line x1="384.07" y1="160.5" x2="384.07" y2="162.3" stroke="#333" stroke-width="1" />
<line x1="388.39" y1="160.5" x2="388.39" y2="162.3" stroke="#333" stroke-width="1" />
<line x1="392.57" y1="160.5" x2="392.57" y2="162.3" stroke="#333" stroke-width="1" />
<line x1="396.63" y1="160.5" x2="396.63" y2="162.3" stroke="#333" stroke-width="1" />
<line x1="400.57" y1="160.5" x2="400.57" y2="162.3" stroke="#333" stroke-width="1" />
<line x1="404.4" y1="160.5" x2="404.4" y2="162.3" stroke="#333" stroke-width="1" />
<line x1="408.12" y1="160.5" x2="408.12" y2="162.3" stroke="#333" stroke-width="1" />
<line x1="411.75" y1="160.5" x2="411.75" y2="162.3" stroke="#333" stroke-width="1" />
<line x1="415.28" y1="160.5" x2="415.28" y2="162.3" stroke="#333" stroke-width="1" />
<line x1="418.72" y1="160.5" x2="418.72" y2="162.3" stroke="#333" stroke-width="1" />
<line x1="422.08" y1="160.5" x2="422.08" y2="162.3" stroke="#333" stroke-width="1" />
<line x1="425.35" y1="160.5" x2="425.35" y2="162.3" stroke="#333" stroke-width="1" />
<line x1="428.55" y1="160.5" x2="428.55" y2="162.3" stroke="#333" stroke-width="1" />
<line x1="431.68" y1="160.5" x2="431.68" y2="162.3" stroke="#333" stroke-width="1" />
<line x1="434.73" y1="160.5" x2="434.73" y2="162.3" stroke="#333" stroke-width="1" />
<line x1="437.72" y1="160.5" x2="437.72" y2="162.3" stroke="#333" stroke-width="1" />
<line x1="440.64" y1="160.5" x2="440.64" y2="162.3" stroke="#333" stroke-width="1" />
<line x1="443.51" y1="160.5" x2="443.51" y2="162.3" stroke="#333" stroke-width="1" />
<line x1="446.31" y1="160.5" x2="446.31" y2="162.3" stroke="#333" stroke-width="1" />
<line x1="267.5" y1="160.6" x2="270.5" y2="160.6" stroke="#333" stroke-width="1" />
<line x1="267.5" y1="55.1" x2="270.5" y2="55.1" stroke="#333" stroke-width="1" />
<line x1="268.7" y1="128.84" x2="270.5" y2="128.84" stroke="#333" stroke-width="1" />
<line x1="268.7" y1="110.26" x2="270.5" y2="110.26" stroke="#333" stroke-width="1" />
<line x1="268.7" y1="97.08" x2="270.5" y2="97.08" stroke="#333" stroke-width="1" />
<line x1="268.7" y1="86.86" x2="270.5" y2="86.86" stroke="#333" stroke-width="1" />
<line x1="268.7" y1="78.51" x2="270.5" y2="78.51" stroke="#333" stroke-width="1" />
<line x1="268.7" y1="71.44" x2="270.5" y2="71.44" stroke="#333" stroke-width="1" />
<line x1="268.7" y1="65.32" x2="270.5" y2="65.32" stroke="#333" stroke-width="1" />
<line x1="268.7" y1="59.93" x2="270.5" y2="59.93" stroke="#333" stroke-width="1" />
<line x1="268.7" y1="23.34" x2="270.5" y2="23.34" stroke="#333" stroke-width="1" />
<text x="266.3" y="58.7" font-size="10.7" text-anchor="end" fill="#000" >10<tspan dy="-4.6" font-size="7.6">3</tspan></text>
<text x="266.3" y="164.2" font-size="10.7" text-anchor="end" fill="#000" >10<tspan dy="-4.6" font-size="7.6">2</tspan></text>
<text x="359.5" y="186.3" font-size="12" text-anchor="middle" fill="#000" >Excitation Power (mW)</text>
<text transform="translate(246.8,140.5) rotate(-90)" font-size="11.85" fill="#000">SHG Intensity (a.u.)</text>
<text x="236.5" y="15.5" font-size="20" text-anchor="start" fill="#000" >b</text>
<text x="292" y="53" font-size="11" text-anchor="start" fill="#000" >Slope=1.95</text>
<circle cx="285.9" cy="127.6" r="2.5" fill="none" stroke="#e8534f" stroke-width="1.1"/>
<circle cx="317" cy="114.5" r="2.5" fill="none" stroke="#e8534f" stroke-width="1.1"/>
<circle cx="342.5" cy="93.1" r="2.5" fill="none" stroke="#e8534f" stroke-width="1.1"/>
<circle cx="364.2" cy="75.5" r="2.5" fill="none" stroke="#e8534f" stroke-width="1.1"/>
<circle cx="382.1" cy="65.9" r="2.5" fill="none" stroke="#e8534f" stroke-width="1.1"/>
<circle cx="397.3" cy="54.8" r="2.5" fill="none" stroke="#e8534f" stroke-width="1.1"/>
<circle cx="422.1" cy="43.1" r="2.5" fill="none" stroke="#e8534f" stroke-width="1.1"/>
<circle cx="431.1" cy="35.9" r="2.5" fill="none" stroke="#e8534f" stroke-width="1.1"/>
<line x1="285.9" y1="130.3" x2="438" y2="29.7" stroke="#6363d0" stroke-width="1.1" />
<rect x="485.5" y="17" width="178.5" height="143.5" fill="none" stroke="#333" stroke-width="1" />
<line x1="507.1" y1="160.5" x2="507.1" y2="163.5" stroke="#333" stroke-width="1" />
<text x="507.1" y="174.1" font-size="10.5" text-anchor="middle" fill="#000" >531</text>
<line x1="550.7" y1="160.5" x2="550.7" y2="163.5" stroke="#333" stroke-width="1" />
<text x="550.7" y="174.1" font-size="10.5" text-anchor="middle" fill="#000" >532</text>
<line x1="594.3" y1="160.5" x2="594.3" y2="163.5" stroke="#333" stroke-width="1" />
<text x="594.3" y="174.1" font-size="10.5" text-anchor="middle" fill="#000" >533</text>
<line x1="637.9" y1="160.5" x2="637.9" y2="163.5" stroke="#333" stroke-width="1" />
<text x="637.9" y="174.1" font-size="10.5" text-anchor="middle" fill="#000" >534</text>
<line x1="528.9" y1="160.5" x2="528.9" y2="162.5" stroke="#333" stroke-width="1" />
<line x1="572.5" y1="160.5" x2="572.5" y2="162.5" stroke="#333" stroke-width="1" />
<line x1="616.1" y1="160.5" x2="616.1" y2="162.5" stroke="#333" stroke-width="1" />
<line x1="659.7" y1="160.5" x2="659.7" y2="162.5" stroke="#333" stroke-width="1" />
<text x="574.75" y="186.3" font-size="12" text-anchor="middle" fill="#000" >Wavelength (nm)</text>
<text transform="translate(479,140.5) rotate(-90)" font-size="11.85" fill="#000">SHG Intensity (a.u.)</text>
<text x="461.5" y="15.5" font-size="20" text-anchor="start" fill="#000" >c</text>
<polyline points="486.1,147.5 486.84,147.5 487.58,147.5 488.32,147.5 489.06,147.5 489.79,147.5 490.53,147.5 491.27,147.5 492.01,147.5 492.75,147.5 493.49,147.5 494.23,147.5 494.97,147.5 495.7,147.5 496.44,147.5 497.18,147.5 497.92,147.5 498.66,147.5 499.4,147.5 500.14,147.5 500.88,147.5 501.61,147.5 502.35,147.5 503.09,147.5 503.83,147.5 504.57,147.5 505.31,147.5 506.05,147.5 506.79,147.5 507.52,147.5 508.26,147.5 509,147.5 509.74,147.5 510.48,147.5 511.22,147.5 511.96,147.5 512.7,147.5 513.43,147.5 514.17,147.5 514.91,147.5 515.65,147.5 516.39,147.5 517.13,147.49 517.87,147.49 518.61,147.49 519.34,147.49 520.08,147.49 520.82,147.48 521.56,147.48 522.3,147.48 523.04,147.47 523.78,147.47 524.51,147.46 525.25,147.45 525.99,147.44 526.73,147.43 527.47,147.41 528.21,147.4 528.95,147.38 529.69,147.36 530.43,147.33 531.16,147.31 531.9,147.27 532.64,147.23 533.38,147.19 534.12,147.14 534.86,147.08 535.6,147.02 536.34,146.94 537.07,146.86 537.81,146.77 538.55,146.66 539.29,146.54 540.03,146.41 540.77,146.26 541.51,146.1 542.25,145.92 542.98,145.72 543.72,145.5 544.46,145.26 545.2,144.99 545.94,144.7 546.68,144.39 547.42,144.05 548.15,143.68 548.89,143.28 549.63,142.86 550.37,142.4 551.11,141.92 551.85,141.4 552.59,140.85 553.33,140.28 554.07,139.67 554.8,139.03 555.54,138.36 556.28,137.67 557.02,136.95 557.76,136.21 558.5,135.45 559.24,134.67 559.98,133.87 560.71,133.06 561.45,132.24 562.19,131.42 562.93,130.59 563.67,129.77 564.41,128.96 565.15,128.15 565.88,127.37 566.62,126.6 567.36,125.87 568.1,125.16 568.84,124.49 569.58,123.86 570.32,123.28 571.06,122.74 571.8,122.26 572.53,121.83 573.27,121.46 574.01,121.16 574.75,120.92 575.49,120.74 576.23,120.64 576.97,120.6 577.71,120.63 578.44,120.73 579.18,120.9 579.92,121.13 580.66,121.43 581.4,121.79 582.14,122.21 582.88,122.69 583.62,123.22 584.35,123.8 585.09,124.43 585.83,125.1 586.57,125.8 587.31,126.54 588.05,127.3 588.79,128.08 589.52,128.88 590.26,129.7 591,130.52 591.74,131.34 592.48,132.17 593.22,132.99 593.96,133.8 594.7,134.6 595.44,135.38 596.17,136.14 596.91,136.89 597.65,137.61 598.39,138.3 599.13,138.97 599.87,139.61 600.61,140.22 601.35,140.8 602.08,141.35 602.82,141.87 603.56,142.36 604.3,142.82 605.04,143.25 605.78,143.64 606.52,144.01 607.25,144.36 607.99,144.67 608.73,144.97 609.47,145.23 610.21,145.48 610.95,145.7 611.69,145.9 612.43,146.08 613.17,146.25 613.9,146.4 614.64,146.53 615.38,146.65 616.12,146.76 616.86,146.85 617.6,146.94 618.34,147.01 619.08,147.08 619.81,147.13 620.55,147.19 621.29,147.23 622.03,147.27 622.77,147.3 623.51,147.33 624.25,147.36 624.99,147.38 625.72,147.4 626.46,147.41 627.2,147.43 627.94,147.44 628.68,147.45 629.42,147.46 630.16,147.46 630.89,147.47 631.63,147.48 632.37,147.48 633.11,147.48 633.85,147.49 634.59,147.49 635.33,147.49 636.07,147.49 636.81,147.49 637.54,147.5 638.28,147.5 639.02,147.5 639.76,147.5 640.5,147.5 641.24,147.5 641.98,147.5 642.72,147.5 643.45,147.5 644.19,147.5 644.93,147.5 645.67,147.5 646.41,147.5 647.15,147.5 647.89,147.5 648.62,147.5 649.36,147.5 650.1,147.5 650.84,147.5 651.58,147.5 652.32,147.5 653.06,147.5 653.8,147.5 654.54,147.5 655.27,147.5 656.01,147.5 656.75,147.5 657.49,147.5 658.23,147.5 658.97,147.5 659.71,147.5 660.45,147.5 661.18,147.5 661.92,147.5 662.66,147.5 663.4,147.5" fill="none" stroke="#d8393c" stroke-width="1.5" stroke-linejoin="round" />
<polyline points="486.1,147.5 486.84,147.5 487.58,147.5 488.32,147.5 489.06,147.5 489.79,147.5 490.53,147.5 491.27,147.5 492.01,147.5 492.75,147.5 493.49,147.5 494.23,147.5 494.97,147.5 495.7,147.5 496.44,147.5 497.18,147.5 497.92,147.5 498.66,147.5 499.4,147.5 500.14,147.5 500.88,147.5 501.61,147.5 502.35,147.5 503.09,147.5 503.83,147.5 504.57,147.5 505.31,147.5 506.05,147.5 506.79,147.5 507.52,147.5 508.26,147.5 509,147.5 509.74,147.5 510.48,147.5 511.22,147.5 511.96,147.5 512.7,147.5 513.43,147.5 514.17,147.5 514.91,147.49 515.65,147.49 516.39,147.49 517.13,147.49 517.87,147.49 518.61,147.49 519.34,147.48 520.08,147.48 520.82,147.47 521.56,147.47 522.3,147.46 523.04,147.45 523.78,147.44 524.51,147.43 525.25,147.42 525.99,147.4 526.73,147.39 527.47,147.36 528.21,147.34 528.95,147.31 529.69,147.27 530.43,147.23 531.16,147.19 531.9,147.13 532.64,147.07 533.38,147 534.12,146.92 534.86,146.83 535.6,146.73 536.34,146.61 537.07,146.48 537.81,146.32 538.55,146.16 539.29,145.97 540.03,145.75 540.77,145.52 541.51,145.26 542.25,144.97 542.98,144.64 543.72,144.29 544.46,143.9 545.2,143.48 545.94,143.02 546.68,142.51 547.42,141.97 548.15,141.38 548.89,140.74 549.63,140.06 550.37,139.33 551.11,138.55 551.85,137.73 552.59,136.85 553.33,135.92 554.07,134.95 554.8,133.93 555.54,132.86 556.28,131.75 557.02,130.6 557.76,129.41 558.5,128.19 559.24,126.94 559.98,125.66 560.71,124.36 561.45,123.05 562.19,121.73 562.93,120.41 563.67,119.09 564.41,117.79 565.15,116.5 565.88,115.24 566.62,114.02 567.36,112.84 568.1,111.71 568.84,110.63 569.58,109.62 570.32,108.69 571.06,107.83 571.8,107.05 572.53,106.37 573.27,105.78 574.01,105.29 574.75,104.91 575.49,104.63 576.23,104.46 576.97,104.4 577.71,104.45 578.44,104.61 579.18,104.88 579.92,105.25 580.66,105.73 581.4,106.31 582.14,106.99 582.88,107.75 583.62,108.6 584.35,109.53 585.09,110.54 585.83,111.61 586.57,112.73 587.31,113.91 588.05,115.13 588.79,116.39 589.52,117.67 590.26,118.97 591,120.29 591.74,121.61 592.48,122.93 593.22,124.25 593.96,125.54 594.7,126.82 595.44,128.08 596.17,129.3 596.91,130.5 597.65,131.65 598.39,132.76 599.13,133.83 599.87,134.86 600.61,135.84 601.35,136.77 602.08,137.65 602.82,138.48 603.56,139.26 604.3,140 605.04,140.68 605.78,141.32 606.52,141.92 607.25,142.47 607.99,142.97 608.73,143.44 609.47,143.87 610.21,144.26 610.95,144.61 611.69,144.94 612.43,145.23 613.17,145.5 613.9,145.73 614.64,145.95 615.38,146.14 616.12,146.31 616.86,146.46 617.6,146.6 618.34,146.72 619.08,146.82 619.81,146.91 620.55,147 621.29,147.07 622.03,147.13 622.77,147.18 623.51,147.23 624.25,147.27 624.99,147.31 625.72,147.34 626.46,147.36 627.2,147.38 627.94,147.4 628.68,147.42 629.42,147.43 630.16,147.44 630.89,147.45 631.63,147.46 632.37,147.47 633.11,147.47 633.85,147.48 634.59,147.48 635.33,147.49 636.07,147.49 636.81,147.49 637.54,147.49 638.28,147.49 639.02,147.49 639.76,147.5 640.5,147.5 641.24,147.5 641.98,147.5 642.72,147.5 643.45,147.5 644.19,147.5 644.93,147.5 645.67,147.5 646.41,147.5 647.15,147.5 647.89,147.5 648.62,147.5 649.36,147.5 650.1,147.5 650.84,147.5 651.58,147.5 652.32,147.5 653.06,147.5 653.8,147.5 654.54,147.5 655.27,147.5 656.01,147.5 656.75,147.5 657.49,147.5 658.23,147.5 658.97,147.5 659.71,147.5 660.45,147.5 661.18,147.5 661.92,147.5 662.66,147.5 663.4,147.5" fill="none" stroke="#ec8585" stroke-width="1.2" stroke-linejoin="round" />
<polyline points="486.1,147.5 486.84,147.5 487.58,147.5 488.32,147.5 489.06,147.5 489.79,147.5 490.53,147.5 491.27,147.5 492.01,147.5 492.75,147.5 493.49,147.5 494.23,147.5 494.97,147.5 495.7,147.5 496.44,147.5 497.18,147.5 497.92,147.5 498.66,147.5 499.4,147.5 500.14,147.5 500.88,147.5 501.61,147.5 502.35,147.5 503.09,147.5 503.83,147.5 504.57,147.5 505.31,147.5 506.05,147.5 506.79,147.5 507.52,147.5 508.26,147.5 509,147.5 509.74,147.5 510.48,147.5 511.22,147.5 511.96,147.5 512.7,147.5 513.43,147.49 514.17,147.49 514.91,147.49 515.65,147.49 516.39,147.49 517.13,147.48 517.87,147.48 518.61,147.47 519.34,147.47 520.08,147.46 520.82,147.45 521.56,147.44 522.3,147.43 523.04,147.42 523.78,147.4 524.51,147.38 525.25,147.36 525.99,147.33 526.73,147.3 527.47,147.26 528.21,147.21 528.95,147.16 529.69,147.1 530.43,147.03 531.16,146.95 531.9,146.85 532.64,146.74 533.38,146.62 534.12,146.48 534.86,146.31 535.6,146.13 536.34,145.92 537.07,145.68 537.81,145.41 538.55,145.11 539.29,144.78 540.03,144.4 540.77,143.98 541.51,143.52 542.25,143 542.98,142.43 543.72,141.8 544.46,141.12 545.2,140.36 545.94,139.54 546.68,138.65 547.42,137.68 548.15,136.63 548.89,135.51 549.63,134.3 550.37,133 551.11,131.62 551.85,130.15 552.59,128.6 553.33,126.95 554.07,125.23 554.8,123.41 555.54,121.52 556.28,119.55 557.02,117.51 557.76,115.4 558.5,113.23 559.24,111.01 559.98,108.74 560.71,106.44 561.45,104.11 562.19,101.76 562.93,99.42 563.67,97.08 564.41,94.76 565.15,92.48 565.88,90.25 566.62,88.07 567.36,85.98 568.1,83.97 568.84,82.06 569.58,80.27 570.32,78.61 571.06,77.08 571.8,75.71 572.53,74.5 573.27,73.45 574.01,72.59 574.75,71.9 575.49,71.41 576.23,71.11 576.97,71 577.71,71.09 578.44,71.37 579.18,71.85 579.92,72.52 580.66,73.37 581.4,74.39 582.14,75.59 582.88,76.95 583.62,78.46 584.35,80.11 585.09,81.89 585.83,83.79 586.57,85.79 587.31,87.88 588.05,90.04 588.79,92.27 589.52,94.55 590.26,96.87 591,99.2 591.74,101.55 592.48,103.89 593.22,106.22 593.96,108.53 594.7,110.8 595.44,113.03 596.17,115.2 596.91,117.32 597.65,119.37 598.39,121.34 599.13,123.24 599.87,125.06 600.61,126.8 601.35,128.45 602.08,130.01 602.82,131.49 603.56,132.88 604.3,134.18 605.04,135.4 605.78,136.53 606.52,137.59 607.25,138.56 607.99,139.46 608.73,140.29 609.47,141.05 610.21,141.74 610.95,142.38 611.69,142.95 612.43,143.47 613.17,143.94 613.9,144.36 614.64,144.74 615.38,145.08 616.12,145.39 616.86,145.66 617.6,145.9 618.34,146.11 619.08,146.3 619.81,146.46 620.55,146.61 621.29,146.73 622.03,146.84 622.77,146.94 623.51,147.02 624.25,147.09 624.99,147.15 625.72,147.21 626.46,147.25 627.2,147.29 627.94,147.33 628.68,147.35 629.42,147.38 630.16,147.4 630.89,147.42 631.63,147.43 632.37,147.44 633.11,147.45 633.85,147.46 634.59,147.47 635.33,147.47 636.07,147.48 636.81,147.48 637.54,147.49 638.28,147.49 639.02,147.49 639.76,147.49 640.5,147.49 641.24,147.5 641.98,147.5 642.72,147.5 643.45,147.5 644.19,147.5 644.93,147.5 645.67,147.5 646.41,147.5 647.15,147.5 647.89,147.5 648.62,147.5 649.36,147.5 650.1,147.5 650.84,147.5 651.58,147.5 652.32,147.5 653.06,147.5 653.8,147.5 654.54,147.5 655.27,147.5 656.01,147.5 656.75,147.5 657.49,147.5 658.23,147.5 658.97,147.5 659.71,147.5 660.45,147.5 661.18,147.5 661.92,147.5 662.66,147.5 663.4,147.5" fill="none" stroke="#f6bcbc" stroke-width="1.2" stroke-linejoin="round" />
<polyline points="486.1,147.5 486.84,147.5 487.58,147.5 488.32,147.5 489.06,147.5 489.79,147.5 490.53,147.5 491.27,147.5 492.01,147.5 492.75,147.5 493.49,147.5 494.23,147.5 494.97,147.5 495.7,147.5 496.44,147.5 497.18,147.5 497.92,147.5 498.66,147.5 499.4,147.5 500.14,147.5 500.88,147.5 501.61,147.5 502.35,147.5 503.09,147.5 503.83,147.5 504.57,147.5 505.31,147.5 506.05,147.5 506.79,147.5 507.52,147.5 508.26,147.5 509,147.5 509.74,147.5 510.48,147.5 511.22,147.5 511.96,147.5 512.7,147.49 513.43,147.49 514.17,147.49 514.91,147.49 515.65,147.49 516.39,147.48 517.13,147.48 517.87,147.47 518.61,147.47 519.34,147.46 520.08,147.45 520.82,147.44 521.56,147.43 522.3,147.42 523.04,147.4 523.78,147.38 524.51,147.35 525.25,147.32 525.99,147.29 526.73,147.25 527.47,147.2 528.21,147.14 528.95,147.08 529.69,147 530.43,146.92 531.16,146.82 531.9,146.7 532.64,146.56 533.38,146.41 534.12,146.23 534.86,146.03 535.6,145.81 536.34,145.55 537.07,145.25 537.81,144.92 538.55,144.55 539.29,144.14 540.03,143.67 540.77,143.15 541.51,142.58 542.25,141.94 542.98,141.24 543.72,140.46 544.46,139.61 545.2,138.68 545.94,137.67 546.68,136.57 547.42,135.37 548.15,134.08 548.89,132.69 549.63,131.19 550.37,129.59 551.11,127.88 551.85,126.07 552.59,124.15 553.33,122.12 554.07,119.98 554.8,117.75 555.54,115.41 556.28,112.97 557.02,110.45 557.76,107.85 558.5,105.17 559.24,102.42 559.98,99.62 560.71,96.77 561.45,93.9 562.19,91 562.93,88.1 563.67,85.21 564.41,82.35 565.15,79.53 565.88,76.77 566.62,74.09 567.36,71.5 568.1,69.02 568.84,66.66 569.58,64.45 570.32,62.4 571.06,60.52 571.8,58.82 572.53,57.32 573.27,56.03 574.01,54.96 574.75,54.12 575.49,53.5 576.23,53.13 576.97,53 577.71,53.11 578.44,53.46 579.18,54.05 579.92,54.87 580.66,55.92 581.4,57.19 582.14,58.67 582.88,60.35 583.62,62.22 584.35,64.26 585.09,66.46 585.83,68.8 586.57,71.27 587.31,73.85 588.05,76.53 588.79,79.28 589.52,82.09 590.26,84.95 591,87.84 591.74,90.74 592.48,93.63 593.22,96.51 593.96,99.36 594.7,102.17 595.44,104.92 596.17,107.6 596.91,110.22 597.65,112.75 598.39,115.19 599.13,117.54 599.87,119.78 600.61,121.93 601.35,123.97 602.08,125.9 602.82,127.72 603.56,129.44 604.3,131.05 605.04,132.55 605.78,133.95 606.52,135.26 607.25,136.46 607.99,137.57 608.73,138.59 609.47,139.53 610.21,140.39 610.95,141.17 611.69,141.88 612.43,142.52 613.17,143.1 613.9,143.63 614.64,144.1 615.38,144.52 616.12,144.89 616.86,145.22 617.6,145.52 618.34,145.78 619.08,146.01 619.81,146.22 620.55,146.4 621.29,146.55 622.03,146.69 622.77,146.81 623.51,146.91 624.25,147 624.99,147.07 625.72,147.14 626.46,147.2 627.2,147.24 627.94,147.29 628.68,147.32 629.42,147.35 630.16,147.37 630.89,147.4 631.63,147.41 632.37,147.43 633.11,147.44 633.85,147.45 634.59,147.46 635.33,147.47 636.07,147.47 636.81,147.48 637.54,147.48 638.28,147.49 639.02,147.49 639.76,147.49 640.5,147.49 641.24,147.49 641.98,147.5 642.72,147.5 643.45,147.5 644.19,147.5 644.93,147.5 645.67,147.5 646.41,147.5 647.15,147.5 647.89,147.5 648.62,147.5 649.36,147.5 650.1,147.5 650.84,147.5 651.58,147.5 652.32,147.5 653.06,147.5 653.8,147.5 654.54,147.5 655.27,147.5 656.01,147.5 656.75,147.5 657.49,147.5 658.23,147.5 658.97,147.5 659.71,147.5 660.45,147.5 661.18,147.5 661.92,147.5 662.66,147.5 663.4,147.5" fill="none" stroke="#6f9ad6" stroke-width="1.2" stroke-linejoin="round" />
<polyline points="486.1,147.5 486.84,147.5 487.58,147.5 488.32,147.5 489.06,147.5 489.79,147.5 490.53,147.5 491.27,147.5 492.01,147.5 492.75,147.5 493.49,147.5 494.23,147.5 494.97,147.5 495.7,147.5 496.44,147.5 497.18,147.5 497.92,147.5 498.66,147.5 499.4,147.5 500.14,147.5 500.88,147.5 501.61,147.5 502.35,147.5 503.09,147.5 503.83,147.5 504.57,147.5 505.31,147.5 506.05,147.5 506.79,147.5 507.52,147.5 508.26,147.5 509,147.5 509.74,147.5 510.48,147.5 511.22,147.5 511.96,147.49 512.7,147.49 513.43,147.49 514.17,147.49 514.91,147.49 515.65,147.48 516.39,147.48 517.13,147.48 517.87,147.47 518.61,147.46 519.34,147.46 520.08,147.45 520.82,147.43 521.56,147.42 522.3,147.4 523.04,147.38 523.78,147.36 524.51,147.33 525.25,147.3 525.99,147.26 526.73,147.21 527.47,147.16 528.21,147.09 528.95,147.02 529.69,146.93 530.43,146.83 531.16,146.72 531.9,146.58 532.64,146.43 533.38,146.25 534.12,146.05 534.86,145.82 535.6,145.56 536.34,145.27 537.07,144.93 537.81,144.55 538.55,144.13 539.29,143.65 540.03,143.12 540.77,142.53 541.51,141.87 542.25,141.14 542.98,140.34 543.72,139.45 544.46,138.48 545.2,137.42 545.94,136.25 546.68,134.99 547.42,133.62 548.15,132.15 548.89,130.55 549.63,128.84 550.37,127.01 551.11,125.06 551.85,122.99 552.59,120.79 553.33,118.47 554.07,116.02 554.8,113.46 555.54,110.79 556.28,108.01 557.02,105.12 557.76,102.14 558.5,99.07 559.24,95.93 559.98,92.73 560.71,89.47 561.45,86.18 562.19,82.87 562.93,79.55 563.67,76.25 564.41,72.98 565.15,69.75 565.88,66.6 566.62,63.53 567.36,60.56 568.1,57.72 568.84,55.03 569.58,52.5 570.32,50.15 571.06,48 571.8,46.06 572.53,44.34 573.27,42.87 574.01,41.64 574.75,40.68 575.49,39.98 576.23,39.55 576.97,39.4 577.71,39.53 578.44,39.93 579.18,40.6 579.92,41.54 580.66,42.74 581.4,44.2 582.14,45.89 582.88,47.81 583.62,49.95 584.35,52.28 585.09,54.79 585.83,57.47 586.57,60.3 587.31,63.25 588.05,66.31 588.79,69.46 589.52,72.68 590.26,75.95 591,79.25 591.74,82.57 592.48,85.88 593.22,89.17 593.96,92.43 594.7,95.64 595.44,98.79 596.17,101.86 596.91,104.85 597.65,107.75 598.39,110.54 599.13,113.22 599.87,115.8 600.61,118.25 601.35,120.58 602.08,122.79 602.82,124.88 603.56,126.84 604.3,128.68 605.04,130.4 605.78,132.01 606.52,133.49 607.25,134.87 607.99,136.14 608.73,137.31 609.47,138.39 610.21,139.37 610.95,140.26 611.69,141.07 612.43,141.81 613.17,142.47 613.9,143.07 614.64,143.61 615.38,144.09 616.12,144.52 616.86,144.9 617.6,145.24 618.34,145.54 619.08,145.8 619.81,146.03 620.55,146.24 621.29,146.42 622.03,146.57 622.77,146.71 623.51,146.82 624.25,146.92 624.99,147.01 625.72,147.09 626.46,147.15 627.2,147.21 627.94,147.25 628.68,147.29 629.42,147.33 630.16,147.36 630.89,147.38 631.63,147.4 632.37,147.42 633.11,147.43 633.85,147.44 634.59,147.45 635.33,147.46 636.07,147.47 636.81,147.48 637.54,147.48 638.28,147.48 639.02,147.49 639.76,147.49 640.5,147.49 641.24,147.49 641.98,147.49 642.72,147.5 643.45,147.5 644.19,147.5 644.93,147.5 645.67,147.5 646.41,147.5 647.15,147.5 647.89,147.5 648.62,147.5 649.36,147.5 650.1,147.5 650.84,147.5 651.58,147.5 652.32,147.5 653.06,147.5 653.8,147.5 654.54,147.5 655.27,147.5 656.01,147.5 656.75,147.5 657.49,147.5 658.23,147.5 658.97,147.5 659.71,147.5 660.45,147.5 661.18,147.5 661.92,147.5 662.66,147.5 663.4,147.5" fill="none" stroke="#4a78c9" stroke-width="1.5" stroke-linejoin="round" />
<line x1="488.4" y1="25.6" x2="508.6" y2="25.6" stroke="#d8393c" stroke-width="1.4" />
<text x="512.4" y="28.4" font-size="9.3" text-anchor="start" fill="#000" >4nm</text>
<line x1="488.4" y1="37.2" x2="508.6" y2="37.2" stroke="#ec8585" stroke-width="1.4" />
<text x="512.4" y="40" font-size="9.3" text-anchor="start" fill="#000" >6nm</text>
<line x1="488.4" y1="48.8" x2="508.6" y2="48.8" stroke="#f6bcbc" stroke-width="1.4" />
<text x="512.4" y="51.6" font-size="9.3" text-anchor="start" fill="#000" >15nm</text>
<line x1="488.4" y1="60.4" x2="508.6" y2="60.4" stroke="#6f9ad6" stroke-width="1.4" />
<text x="512.4" y="63.2" font-size="9.3" text-anchor="start" fill="#000" >23nm</text>
<line x1="488.4" y1="72" x2="508.6" y2="72" stroke="#4a78c9" stroke-width="1.4" />
<text x="512.4" y="74.8" font-size="9.3" text-anchor="start" fill="#000" >35nm</text>
<defs><radialGradient id="gb" cx="0.4" cy="0.38" r="0.62"><stop offset="0" stop-color="#ffffff"/><stop offset="0.2" stop-color="#dde8f8"/><stop offset="0.5" stop-color="#6f99d7"/><stop offset="1" stop-color="#4877bf"/></radialGradient><radialGradient id="gr" cx="0.4" cy="0.38" r="0.62"><stop offset="0" stop-color="#ffffff"/><stop offset="0.2" stop-color="#f6dde2"/><stop offset="0.5" stop-color="#d2566e"/><stop offset="1" stop-color="#b53652"/></radialGradient></defs>
<circle cx="140.45" cy="279.1" r="11.2" fill="none" stroke="#e2e2e2" stroke-width="0.7"/>
<circle cx="140.45" cy="279.1" r="33.5" fill="none" stroke="#e2e2e2" stroke-width="0.7"/>
<circle cx="140.45" cy="279.1" r="55.8" fill="none" stroke="#e2e2e2" stroke-width="0.7"/>
<line x1="140.45" y1="279.1" x2="214.25" y2="279.1" stroke="#a8a8a8" stroke-width="0.7" />
<line x1="140.45" y1="279.1" x2="211.74" y2="260" stroke="#e2e2e2" stroke-width="0.7" />
<line x1="140.45" y1="279.1" x2="204.36" y2="242.2" stroke="#a8a8a8" stroke-width="0.7" />
<line x1="140.45" y1="279.1" x2="192.63" y2="226.92" stroke="#e2e2e2" stroke-width="0.7" />
<line x1="140.45" y1="279.1" x2="177.35" y2="215.19" stroke="#a8a8a8" stroke-width="0.7" />
<line x1="140.45" y1="279.1" x2="159.55" y2="207.81" stroke="#e2e2e2" stroke-width="0.7" />
<line x1="140.45" y1="279.1" x2="140.45" y2="205.3" stroke="#a8a8a8" stroke-width="0.7" />
<line x1="140.45" y1="279.1" x2="121.35" y2="207.81" stroke="#e2e2e2" stroke-width="0.7" />
<line x1="140.45" y1="279.1" x2="103.55" y2="215.19" stroke="#a8a8a8" stroke-width="0.7" />
<line x1="140.45" y1="279.1" x2="88.27" y2="226.92" stroke="#e2e2e2" stroke-width="0.7" />
<line x1="140.45" y1="279.1" x2="76.54" y2="242.2" stroke="#a8a8a8" stroke-width="0.7" />
<line x1="140.45" y1="279.1" x2="69.16" y2="260" stroke="#e2e2e2" stroke-width="0.7" />
<line x1="140.45" y1="279.1" x2="66.65" y2="279.1" stroke="#a8a8a8" stroke-width="0.7" />
<line x1="140.45" y1="279.1" x2="69.16" y2="298.2" stroke="#e2e2e2" stroke-width="0.7" />
<line x1="140.45" y1="279.1" x2="76.54" y2="316" stroke="#a8a8a8" stroke-width="0.7" />
<line x1="140.45" y1="279.1" x2="88.27" y2="331.28" stroke="#e2e2e2" stroke-width="0.7" />
<line x1="140.45" y1="279.1" x2="103.55" y2="343.01" stroke="#a8a8a8" stroke-width="0.7" />
<line x1="140.45" y1="279.1" x2="121.35" y2="350.39" stroke="#e2e2e2" stroke-width="0.7" />
<line x1="140.45" y1="279.1" x2="140.45" y2="352.9" stroke="#a8a8a8" stroke-width="0.7" />
<line x1="140.45" y1="279.1" x2="159.55" y2="350.39" stroke="#e2e2e2" stroke-width="0.7" />
<line x1="140.45" y1="279.1" x2="177.35" y2="343.01" stroke="#a8a8a8" stroke-width="0.7" />
<line x1="140.45" y1="279.1" x2="192.63" y2="331.28" stroke="#e2e2e2" stroke-width="0.7" />
<line x1="140.45" y1="279.1" x2="204.36" y2="316" stroke="#a8a8a8" stroke-width="0.7" />
<line x1="140.45" y1="279.1" x2="211.74" y2="298.2" stroke="#e2e2e2" stroke-width="0.7" />
<circle cx="140.45" cy="279.1" r="73.8" fill="none" stroke="#111" stroke-width="1.3"/>
<line x1="214.25" y1="279.1" x2="211.25" y2="279.1" stroke="#111" stroke-width="1" />
<line x1="211.74" y1="260" x2="210" y2="260.47" stroke="#111" stroke-width="1" />
<line x1="204.36" y1="242.2" x2="201.76" y2="243.7" stroke="#111" stroke-width="1" />
<line x1="192.63" y1="226.92" x2="191.36" y2="228.19" stroke="#111" stroke-width="1" />
<line x1="177.35" y1="215.19" x2="175.85" y2="217.79" stroke="#111" stroke-width="1" />
<line x1="159.55" y1="207.81" x2="159.08" y2="209.55" stroke="#111" stroke-width="1" />
<line x1="140.45" y1="205.3" x2="140.45" y2="208.3" stroke="#111" stroke-width="1" />
<line x1="121.35" y1="207.81" x2="121.82" y2="209.55" stroke="#111" stroke-width="1" />
<line x1="103.55" y1="215.19" x2="105.05" y2="217.79" stroke="#111" stroke-width="1" />
<line x1="88.27" y1="226.92" x2="89.54" y2="228.19" stroke="#111" stroke-width="1" />
<line x1="76.54" y1="242.2" x2="79.14" y2="243.7" stroke="#111" stroke-width="1" />
<line x1="69.16" y1="260" x2="70.9" y2="260.47" stroke="#111" stroke-width="1" />
<line x1="66.65" y1="279.1" x2="69.65" y2="279.1" stroke="#111" stroke-width="1" />
<line x1="69.16" y1="298.2" x2="70.9" y2="297.73" stroke="#111" stroke-width="1" />
<line x1="76.54" y1="316" x2="79.14" y2="314.5" stroke="#111" stroke-width="1" />
<line x1="88.27" y1="331.28" x2="89.54" y2="330.01" stroke="#111" stroke-width="1" />
<line x1="103.55" y1="343.01" x2="105.05" y2="340.41" stroke="#111" stroke-width="1" />
<line x1="121.35" y1="350.39" x2="121.82" y2="348.65" stroke="#111" stroke-width="1" />
<line x1="140.45" y1="352.9" x2="140.45" y2="349.9" stroke="#111" stroke-width="1" />
<line x1="159.55" y1="350.39" x2="159.08" y2="348.65" stroke="#111" stroke-width="1" />
<line x1="177.35" y1="343.01" x2="175.85" y2="340.41" stroke="#111" stroke-width="1" />
<line x1="192.63" y1="331.28" x2="191.36" y2="330.01" stroke="#111" stroke-width="1" />
<line x1="204.36" y1="316" x2="201.76" y2="314.5" stroke="#111" stroke-width="1" />
<line x1="211.74" y1="298.2" x2="210" y2="297.73" stroke="#111" stroke-width="1" />
<text x="140.3" y="199.7" font-size="9.8" text-anchor="middle" fill="#000" >90</text>
<text x="140.1" y="364.7" font-size="9.8" text-anchor="middle" fill="#000" >270</text>
<text x="217.5" y="282.6" font-size="9.8" text-anchor="start" fill="#000" >0</text>
<text x="63.3" y="282.6" font-size="9.8" text-anchor="end" fill="#000" >180</text>
<text x="178.7" y="210.3" font-size="9.8" text-anchor="start" fill="#000" >60</text>
<text x="206.9" y="238.5" font-size="9.8" text-anchor="start" fill="#000" >30</text>
<text x="206.9" y="326.5" font-size="9.8" text-anchor="start" fill="#000" >330</text>
<text x="178.7" y="354.7" font-size="9.8" text-anchor="start" fill="#000" >300</text>
<text x="101.7" y="210.3" font-size="9.8" text-anchor="end" fill="#000" >120</text>
<text x="73.6" y="238.5" font-size="9.8" text-anchor="end" fill="#000" >150</text>
<text x="73.6" y="326.5" font-size="9.8" text-anchor="end" fill="#000" >210</text>
<text x="101.7" y="354.7" font-size="9.8" text-anchor="end" fill="#000" >240</text>
<line x1="45.7" y1="205.3" x2="45.7" y2="278.5" stroke="#222" stroke-width="1" />
<line x1="43.1" y1="278.5" x2="45.7" y2="278.5" stroke="#222" stroke-width="1" />
<text x="42.2" y="281.4" font-size="8.4" text-anchor="end" fill="#000" >0</text>
<line x1="44.1" y1="267.15" x2="45.7" y2="267.15" stroke="#222" stroke-width="1" />
<line x1="43.1" y1="255.8" x2="45.7" y2="255.8" stroke="#222" stroke-width="1" />
<text x="42.2" y="258.7" font-size="8.4" text-anchor="end" fill="#000" >2000</text>
<line x1="44.1" y1="244.45" x2="45.7" y2="244.45" stroke="#222" stroke-width="1" />
<line x1="43.1" y1="233.1" x2="45.7" y2="233.1" stroke="#222" stroke-width="1" />
<text x="42.2" y="236" font-size="8.4" text-anchor="end" fill="#000" >4000</text>
<line x1="44.1" y1="221.75" x2="45.7" y2="221.75" stroke="#222" stroke-width="1" />
<line x1="43.1" y1="210.4" x2="45.7" y2="210.4" stroke="#222" stroke-width="1" />
<text x="42.2" y="213.3" font-size="8.4" text-anchor="end" fill="#000" >6000</text>
<path d="M140.45,279.1C139.38,278.12 136.53,276.6 134,273.2C131.47,269.8 127.7,263.88 125.3,258.7C122.9,253.52 120.78,245.95 119.6,242.1C118.42,238.25 118.57,237.9 118.2,235.6C117.83,233.3 117.47,230.72 117.4,228.3C117.33,225.88 117.55,223.03 117.8,221.1C118.05,219.17 118.35,217.8 118.9,216.7C119.45,215.6 120.38,214.92 121.1,214.5C121.82,214.08 122.42,214.13 123.2,214.2C123.98,214.27 124.95,214.55 125.8,214.9C126.65,215.25 127.27,215.27 128.3,216.3C129.33,217.33 130.78,219.22 132,221.1C133.22,222.98 134.63,225.43 135.6,227.6C136.57,229.77 137.2,231.92 137.8,234.1C138.4,236.28 138.83,238.63 139.2,240.7C139.57,242.77 139.77,244.47 140,246.5C140.23,248.53 140.43,249.17 140.6,252.9C140.77,256.63 141.03,264.53 141,268.9C140.97,273.27 140.54,277.4 140.45,279.1" fill="none" stroke="#4f80c6" stroke-width="1.3" stroke-linejoin="round"/>
<path d="M140.45,279.1C140.82,277.53 141.14,273.23 142.7,269.7C144.26,266.17 147.25,261.57 149.8,257.9C152.35,254.23 155.05,250.97 158,247.7C160.95,244.43 164.55,240.95 167.5,238.3C170.45,235.65 173.35,233.28 175.7,231.8C178.05,230.32 179.83,229.6 181.6,229.4C183.37,229.2 185.22,229.8 186.3,230.6C187.38,231.4 187.9,232.82 188.1,234.2C188.3,235.58 188.38,236.95 187.5,238.9C186.62,240.85 184.57,243.35 182.8,245.9C181.03,248.45 179.25,251.43 176.9,254.2C174.55,256.97 171.65,259.95 168.7,262.5C165.75,265.05 162.35,267.33 159.2,269.5C156.05,271.67 152.93,273.9 149.8,275.5C146.68,277.1 142.01,278.5 140.45,279.1" fill="none" stroke="#4f80c6" stroke-width="1.3" stroke-linejoin="round"/>
<path d="M140.45,279.1C139.32,278.08 136.66,274.93 133.7,273C130.74,271.07 125.98,269.15 122.7,267.5C119.42,265.85 117.1,264.37 114,263.1C110.9,261.83 107.57,260.8 104.1,259.9C100.63,259 96.67,258.12 93.2,257.7C89.73,257.28 85.85,257.22 83.3,257.4C80.75,257.58 79.22,258.03 77.9,258.8C76.58,259.57 75.68,260.73 75.4,262C75.12,263.27 75.43,265.12 76.2,266.4C76.97,267.68 78.08,268.6 80,269.7C81.92,270.8 84.95,271.9 87.7,273C90.45,274.1 93.4,275.35 96.5,276.3C99.6,277.25 102.83,278.12 106.3,278.7C109.77,279.28 113.47,279.62 117.3,279.8C121.13,279.98 125.44,279.92 129.3,279.8C133.16,279.68 138.59,279.22 140.45,279.1" fill="none" stroke="#4f80c6" stroke-width="1.3" stroke-linejoin="round"/>
<path d="M140.45,279.1C139.02,279.57 134.89,280.45 131.9,281.9C128.91,283.35 125.45,285.93 122.5,287.8C119.55,289.67 116.95,290.93 114.2,293.1C111.45,295.27 108.55,298.33 106,300.8C103.45,303.27 100.97,305.55 98.9,307.9C96.83,310.25 94.88,312.75 93.6,314.9C92.32,317.05 91.4,318.93 91.2,320.8C91,322.67 91.52,325.02 92.4,326.1C93.28,327.18 94.93,327.4 96.5,327.3C98.07,327.2 99.63,326.58 101.8,325.5C103.97,324.42 106.85,322.77 109.5,320.8C112.15,318.83 115.15,316.25 117.7,313.7C120.25,311.15 122.63,308.25 124.8,305.5C126.97,302.75 128.73,300.15 130.7,297.2C132.67,294.25 134.97,290.82 136.6,287.8C138.22,284.78 139.81,280.55 140.45,279.1" fill="none" stroke="#4f80c6" stroke-width="1.3" stroke-linejoin="round"/>
<path d="M140.45,279.1C140.14,280.92 138.91,286.37 138.6,290C138.29,293.63 138.42,297.27 138.6,300.9C138.78,304.53 139.15,308.35 139.7,311.8C140.25,315.25 140.98,318.52 141.9,321.6C142.82,324.68 144.02,327.58 145.2,330.3C146.38,333.02 147.65,335.63 149,337.9C150.35,340.17 151.95,342.98 153.3,343.9C154.65,344.82 155.92,344.12 157.1,343.4C158.28,342.68 159.67,341.23 160.4,339.6C161.13,337.97 161.5,336.42 161.5,333.6C161.5,330.78 160.95,326.15 160.4,322.7C159.85,319.25 159.1,315.98 158.2,312.9C157.3,309.82 156.18,306.93 155,304.2C153.82,301.47 152.38,298.87 151.1,296.5C149.82,294.13 149.08,292.9 147.3,290C145.53,287.1 141.59,280.92 140.45,279.1" fill="none" stroke="#4f80c6" stroke-width="1.3" stroke-linejoin="round"/>
<path d="M140.45,279.1C142.09,278.85 147.31,277.77 150.3,277.6C153.29,277.43 155.52,277.93 158.4,278.1C161.28,278.27 164.53,278.33 167.6,278.6C170.67,278.87 173.9,279.1 176.8,279.7C179.7,280.3 182.27,281.18 185,282.2C187.73,283.22 190.65,284.43 193.2,285.8C195.75,287.17 198.43,288.78 200.3,290.4C202.17,292.02 204.05,293.88 204.4,295.5C204.75,297.12 203.58,299 202.4,300.1C201.22,301.2 199.35,301.85 197.3,302.1C195.25,302.35 192.67,301.93 190.1,301.6C187.53,301.27 184.62,300.78 181.9,300.1C179.18,299.42 176.68,298.6 173.8,297.5C170.92,296.4 167.67,294.93 164.6,293.5C161.53,292.07 158.13,290.35 155.4,288.9C152.67,287.45 150.69,286.43 148.2,284.8C145.71,283.17 141.74,280.05 140.45,279.1" fill="none" stroke="#4f80c6" stroke-width="1.3" stroke-linejoin="round"/>
<circle cx="135.1" cy="272.9" r="2.5" fill="url(#gb)"/>
<circle cx="136.7" cy="276.2" r="2.5" fill="url(#gb)"/>
<circle cx="140.5" cy="273.4" r="2.5" fill="url(#gb)"/>
<circle cx="142.4" cy="271.8" r="2.5" fill="url(#gb)"/>
<circle cx="140.8" cy="278.1" r="2.5" fill="url(#gb)"/>
<circle cx="134.5" cy="280" r="2.5" fill="url(#gb)"/>
<circle cx="138.1" cy="281.3" r="2.5" fill="url(#gb)"/>
<circle cx="138.1" cy="284.6" r="2.5" fill="url(#gb)"/>
<circle cx="142.4" cy="282.4" r="2.5" fill="url(#gb)"/>
<circle cx="144.9" cy="282.7" r="2.5" fill="url(#gb)"/>
<circle cx="147.3" cy="276.4" r="2.5" fill="url(#gb)"/>
<circle cx="149" cy="274.8" r="2.5" fill="url(#gb)"/>
<circle cx="116.3" cy="214.5" r="2.5" fill="url(#gb)"/>
<circle cx="128.7" cy="213.2" r="2.5" fill="url(#gb)"/>
<circle cx="120.3" cy="244.3" r="2.5" fill="url(#gb)"/>
<circle cx="140" cy="246.8" r="2.5" fill="url(#gb)"/>
<circle cx="181.6" cy="229.2" r="2.5" fill="url(#gb)"/>
<circle cx="188.1" cy="238.3" r="2.5" fill="url(#gb)"/>
<circle cx="158.3" cy="247.4" r="2.5" fill="url(#gb)"/>
<circle cx="174" cy="258.9" r="2.5" fill="url(#gb)"/>
<circle cx="168.1" cy="262.7" r="2.5" fill="url(#gb)"/>
<circle cx="83.3" cy="258.2" r="2.5" fill="url(#gb)"/>
<circle cx="78.9" cy="268.1" r="2.5" fill="url(#gb)"/>
<circle cx="112.9" cy="263.4" r="2.5" fill="url(#gb)"/>
<circle cx="106.9" cy="279" r="2.5" fill="url(#gb)"/>
<circle cx="91.8" cy="319.1" r="2.5" fill="url(#gb)"/>
<circle cx="101.2" cy="325.3" r="2.5" fill="url(#gb)"/>
<circle cx="111.3" cy="295.5" r="2.5" fill="url(#gb)"/>
<circle cx="123.6" cy="306.9" r="2.5" fill="url(#gb)"/>
<circle cx="140.3" cy="315.9" r="2.5" fill="url(#gb)"/>
<circle cx="151.1" cy="342.8" r="2.5" fill="url(#gb)"/>
<circle cx="161.5" cy="337.7" r="2.5" fill="url(#gb)"/>
<circle cx="155.3" cy="305.3" r="2.5" fill="url(#gb)"/>
<circle cx="167.1" cy="278.8" r="2.5" fill="url(#gb)"/>
<circle cx="177.3" cy="278.9" r="2.5" fill="url(#gb)"/>
<circle cx="193.7" cy="288.4" r="2.5" fill="url(#gb)"/>
<circle cx="195.2" cy="299.1" r="2.5" fill="url(#gb)"/>
<circle cx="172.2" cy="297.3" r="2.5" fill="url(#gb)"/>
<text transform="translate(17.9,330.5) rotate(-90)" font-size="12.2" fill="#000">SHG Intensity (a.u.)</text>
<text x="9" y="197.8" font-size="20.5" text-anchor="start" fill="#000" >d</text>
<circle cx="210.5" cy="208.5" r="2.6" fill="url(#gb)"/>
<line x1="219.3" y1="213.7" x2="222.5" y2="203.2" stroke="#111" stroke-width="1.1" />
<line x1="223.4" y1="213.7" x2="226.6" y2="203.2" stroke="#111" stroke-width="1.1" />
<circle cx="358.65" cy="279.1" r="9.95" fill="none" stroke="#e2e2e2" stroke-width="0.7"/>
<circle cx="358.65" cy="279.1" r="29.85" fill="none" stroke="#e2e2e2" stroke-width="0.7"/>
<circle cx="358.65" cy="279.1" r="49.75" fill="none" stroke="#e2e2e2" stroke-width="0.7"/>
<circle cx="358.65" cy="279.1" r="69.65" fill="none" stroke="#e2e2e2" stroke-width="0.7"/>
<line x1="358.65" y1="279.1" x2="432.55" y2="279.1" stroke="#a8a8a8" stroke-width="0.7" />
<line x1="358.65" y1="279.1" x2="430.03" y2="259.97" stroke="#e2e2e2" stroke-width="0.7" />
<line x1="358.65" y1="279.1" x2="422.65" y2="242.15" stroke="#a8a8a8" stroke-width="0.7" />
<line x1="358.65" y1="279.1" x2="410.91" y2="226.84" stroke="#e2e2e2" stroke-width="0.7" />
<line x1="358.65" y1="279.1" x2="395.6" y2="215.1" stroke="#a8a8a8" stroke-width="0.7" />
<line x1="358.65" y1="279.1" x2="377.78" y2="207.72" stroke="#e2e2e2" stroke-width="0.7" />
<line x1="358.65" y1="279.1" x2="358.65" y2="205.2" stroke="#a8a8a8" stroke-width="0.7" />
<line x1="358.65" y1="279.1" x2="339.52" y2="207.72" stroke="#e2e2e2" stroke-width="0.7" />
<line x1="358.65" y1="279.1" x2="321.7" y2="215.1" stroke="#a8a8a8" stroke-width="0.7" />
<line x1="358.65" y1="279.1" x2="306.39" y2="226.84" stroke="#e2e2e2" stroke-width="0.7" />
<line x1="358.65" y1="279.1" x2="294.65" y2="242.15" stroke="#a8a8a8" stroke-width="0.7" />
<line x1="358.65" y1="279.1" x2="287.27" y2="259.97" stroke="#e2e2e2" stroke-width="0.7" />
<line x1="358.65" y1="279.1" x2="284.75" y2="279.1" stroke="#a8a8a8" stroke-width="0.7" />
<line x1="358.65" y1="279.1" x2="287.27" y2="298.23" stroke="#e2e2e2" stroke-width="0.7" />
<line x1="358.65" y1="279.1" x2="294.65" y2="316.05" stroke="#a8a8a8" stroke-width="0.7" />
<line x1="358.65" y1="279.1" x2="306.39" y2="331.36" stroke="#e2e2e2" stroke-width="0.7" />
<line x1="358.65" y1="279.1" x2="321.7" y2="343.1" stroke="#a8a8a8" stroke-width="0.7" />
<line x1="358.65" y1="279.1" x2="339.52" y2="350.48" stroke="#e2e2e2" stroke-width="0.7" />
<line x1="358.65" y1="279.1" x2="358.65" y2="353" stroke="#a8a8a8" stroke-width="0.7" />
<line x1="358.65" y1="279.1" x2="377.78" y2="350.48" stroke="#e2e2e2" stroke-width="0.7" />
<line x1="358.65" y1="279.1" x2="395.6" y2="343.1" stroke="#a8a8a8" stroke-width="0.7" />
<line x1="358.65" y1="279.1" x2="410.91" y2="331.36" stroke="#e2e2e2" stroke-width="0.7" />
<line x1="358.65" y1="279.1" x2="422.65" y2="316.05" stroke="#a8a8a8" stroke-width="0.7" />
<line x1="358.65" y1="279.1" x2="430.03" y2="298.23" stroke="#e2e2e2" stroke-width="0.7" />
<circle cx="358.65" cy="279.1" r="73.9" fill="none" stroke="#111" stroke-width="1.3"/>
<line x1="432.55" y1="279.1" x2="429.55" y2="279.1" stroke="#111" stroke-width="1" />
<line x1="430.03" y1="259.97" x2="428.29" y2="260.44" stroke="#111" stroke-width="1" />
<line x1="422.65" y1="242.15" x2="420.05" y2="243.65" stroke="#111" stroke-width="1" />
<line x1="410.91" y1="226.84" x2="409.63" y2="228.12" stroke="#111" stroke-width="1" />
<line x1="395.6" y1="215.1" x2="394.1" y2="217.7" stroke="#111" stroke-width="1" />
<line x1="377.78" y1="207.72" x2="377.31" y2="209.46" stroke="#111" stroke-width="1" />
<line x1="358.65" y1="205.2" x2="358.65" y2="208.2" stroke="#111" stroke-width="1" />
<line x1="339.52" y1="207.72" x2="339.99" y2="209.46" stroke="#111" stroke-width="1" />
<line x1="321.7" y1="215.1" x2="323.2" y2="217.7" stroke="#111" stroke-width="1" />
<line x1="306.39" y1="226.84" x2="307.67" y2="228.12" stroke="#111" stroke-width="1" />
<line x1="294.65" y1="242.15" x2="297.25" y2="243.65" stroke="#111" stroke-width="1" />
<line x1="287.27" y1="259.97" x2="289.01" y2="260.44" stroke="#111" stroke-width="1" />
<line x1="284.75" y1="279.1" x2="287.75" y2="279.1" stroke="#111" stroke-width="1" />
<line x1="287.27" y1="298.23" x2="289.01" y2="297.76" stroke="#111" stroke-width="1" />
<line x1="294.65" y1="316.05" x2="297.25" y2="314.55" stroke="#111" stroke-width="1" />
<line x1="306.39" y1="331.36" x2="307.67" y2="330.08" stroke="#111" stroke-width="1" />
<line x1="321.7" y1="343.1" x2="323.2" y2="340.5" stroke="#111" stroke-width="1" />
<line x1="339.52" y1="350.48" x2="339.99" y2="348.74" stroke="#111" stroke-width="1" />
<line x1="358.65" y1="353" x2="358.65" y2="350" stroke="#111" stroke-width="1" />
<line x1="377.78" y1="350.48" x2="377.31" y2="348.74" stroke="#111" stroke-width="1" />
<line x1="395.6" y1="343.1" x2="394.1" y2="340.5" stroke="#111" stroke-width="1" />
<line x1="410.91" y1="331.36" x2="409.63" y2="330.08" stroke="#111" stroke-width="1" />
<line x1="422.65" y1="316.05" x2="420.05" y2="314.55" stroke="#111" stroke-width="1" />
<line x1="430.03" y1="298.23" x2="428.29" y2="297.76" stroke="#111" stroke-width="1" />
<text x="358.5" y="199.7" font-size="9.8" text-anchor="middle" fill="#000" >90</text>
<text x="358.3" y="364.7" font-size="9.8" text-anchor="middle" fill="#000" >270</text>
<text x="435.7" y="282.6" font-size="9.8" text-anchor="start" fill="#000" >0</text>
<text x="281.5" y="282.6" font-size="9.8" text-anchor="end" fill="#000" >180</text>
<text x="396.9" y="210.3" font-size="9.8" text-anchor="start" fill="#000" >60</text>
<text x="425.1" y="238.5" font-size="9.8" text-anchor="start" fill="#000" >30</text>
<text x="425.1" y="326.5" font-size="9.8" text-anchor="start" fill="#000" >330</text>
<text x="396.9" y="354.7" font-size="9.8" text-anchor="start" fill="#000" >300</text>
<text x="319.9" y="210.3" font-size="9.8" text-anchor="end" fill="#000" >120</text>
<text x="291.8" y="238.5" font-size="9.8" text-anchor="end" fill="#000" >150</text>
<text x="291.8" y="326.5" font-size="9.8" text-anchor="end" fill="#000" >210</text>
<text x="319.9" y="354.7" font-size="9.8" text-anchor="end" fill="#000" >240</text>
<line x1="265.6" y1="204.9" x2="265.6" y2="279" stroke="#222" stroke-width="1" />
<line x1="263" y1="279" x2="265.6" y2="279" stroke="#222" stroke-width="1" />
<text x="261.4" y="281.9" font-size="8.4" text-anchor="end" fill="#000" >0</text>
<line x1="264" y1="269.05" x2="265.6" y2="269.05" stroke="#222" stroke-width="1" />
<line x1="263" y1="259.1" x2="265.6" y2="259.1" stroke="#222" stroke-width="1" />
<text x="261.4" y="262" font-size="8.4" text-anchor="end" fill="#000" >2000</text>
<line x1="264" y1="249.15" x2="265.6" y2="249.15" stroke="#222" stroke-width="1" />
<line x1="263" y1="239.2" x2="265.6" y2="239.2" stroke="#222" stroke-width="1" />
<text x="261.4" y="242.1" font-size="8.4" text-anchor="end" fill="#000" >4000</text>
<line x1="264" y1="229.25" x2="265.6" y2="229.25" stroke="#222" stroke-width="1" />
<line x1="263" y1="219.3" x2="265.6" y2="219.3" stroke="#222" stroke-width="1" />
<text x="261.4" y="222.2" font-size="8.4" text-anchor="end" fill="#000" >6000</text>
<line x1="264" y1="209.35" x2="265.6" y2="209.35" stroke="#222" stroke-width="1" />
<path d="M358.65,279.1C358.54,277.4 358.18,272.78 358,268.9C357.82,265.02 357.48,260.4 357.6,255.8C357.72,251.2 358.03,245.65 358.7,241.3C359.37,236.95 360.52,233.22 361.6,229.7C362.68,226.18 363.87,222.62 365.2,220.2C366.53,217.78 367.78,216.4 369.6,215.2C371.42,214 374.4,212.88 376.1,213C377.8,213.12 379.02,214.08 379.8,215.9C380.58,217.72 380.68,220.88 380.8,223.9C380.92,226.92 380.8,230.85 380.5,234C380.2,237.15 379.73,239.88 379,242.8C378.27,245.72 377.3,248.6 376.1,251.5C374.9,254.4 373.48,257.3 371.8,260.2C370.12,263.1 368.19,265.75 366,268.9C363.81,272.05 359.88,277.4 358.65,279.1" fill="none" stroke="#d45a6c" stroke-width="1.1" stroke-linejoin="round"/>
<path d="M358.65,279.1C360.16,277.83 364.24,273.73 367.7,271.5C371.16,269.27 375.52,267.45 379.4,265.7C383.28,263.95 387.12,262.27 391,261C394.88,259.73 398.8,258.72 402.7,258.1C406.6,257.48 411.28,257.2 414.4,257.3C417.52,257.4 419.75,257.78 421.4,258.7C423.05,259.62 424,261.35 424.3,262.8C424.6,264.25 424.07,266.1 423.2,267.4C422.33,268.7 421.35,269.52 419.1,270.6C416.85,271.68 412.82,272.87 409.7,273.9C406.58,274.93 403.52,275.93 400.4,276.8C397.28,277.67 394.5,278.52 391,279.1C387.5,279.68 383.28,280.1 379.4,280.3C375.52,280.5 371.16,280.5 367.7,280.3C364.24,280.1 360.16,279.3 358.65,279.1" fill="none" stroke="#d45a6c" stroke-width="1.1" stroke-linejoin="round"/>
<path d="M358.65,279.1C358.09,278.02 356.99,275.5 355.3,272.6C353.61,269.7 350.77,265.33 348.5,261.7C346.23,258.07 344.18,253.97 341.7,250.8C339.22,247.63 336.32,245.18 333.6,242.7C330.88,240.22 328.13,237.83 325.4,235.9C322.67,233.97 319.47,232.02 317.2,231.1C314.93,230.18 313.15,230.07 311.8,230.4C310.45,230.73 309.45,231.73 309.1,233.1C308.75,234.47 308.92,236.55 309.7,238.6C310.48,240.65 312.1,243.13 313.8,245.4C315.5,247.67 317.52,249.7 319.9,252.2C322.28,254.7 325.15,257.9 328.1,260.4C331.05,262.9 334.42,264.93 337.6,267.2C340.78,269.47 343.69,272.02 347.2,274C350.71,275.98 356.74,278.25 358.65,279.1" fill="none" stroke="#d45a6c" stroke-width="1.1" stroke-linejoin="round"/>
<path d="M358.65,279.1C357.11,278.85 352.89,277.75 349.4,277.6C345.91,277.45 341.78,278 337.7,278.2C333.62,278.4 328.98,278.22 324.9,278.8C320.82,279.38 316.9,280.53 313.2,281.7C309.5,282.87 305.62,284.53 302.7,285.8C299.78,287.07 297.3,288.03 295.7,289.3C294.1,290.57 293.4,291.95 293.1,293.4C292.8,294.85 293.08,296.73 293.9,298C294.72,299.27 295.75,300.45 298,301C300.25,301.55 303.9,301.5 307.4,301.3C310.9,301.1 315.12,300.63 319,299.8C322.88,298.97 326.8,297.77 330.7,296.3C334.6,294.83 338.9,292.85 342.4,291C345.9,289.15 348.99,287.18 351.7,285.2C354.41,283.22 357.49,280.12 358.65,279.1" fill="none" stroke="#d45a6c" stroke-width="1.1" stroke-linejoin="round"/>
<path d="M358.65,279.1C357.71,280.48 354.93,284.45 353,287.4C351.07,290.35 349.07,293.27 347.1,296.8C345.13,300.33 342.67,305.07 341.2,308.6C339.73,312.13 339.08,314.67 338.3,318C337.52,321.33 336.8,325.45 336.5,328.6C336.2,331.75 336.1,334.53 336.5,336.9C336.9,339.27 337.92,341.52 338.9,342.8C339.88,344.08 341.03,344.5 342.4,344.6C343.77,344.7 345.62,344.68 347.1,343.4C348.58,342.12 350.02,339.37 351.3,336.9C352.58,334.43 353.73,331.75 354.8,328.6C355.87,325.45 357.02,321.53 357.7,318C358.38,314.47 358.6,310.93 358.9,307.4C359.2,303.87 359.4,300.13 359.5,296.8C359.6,293.47 359.64,290.35 359.5,287.4C359.36,284.45 358.79,280.48 358.65,279.1" fill="none" stroke="#d45a6c" stroke-width="1.1" stroke-linejoin="round"/>
<path d="M358.65,279.1C360.11,279.6 364.56,280.73 367.4,282.1C370.24,283.47 372.93,285.4 375.7,287.3C378.47,289.2 381.25,291.25 384,293.5C386.75,295.75 389.62,298.38 392.2,300.8C394.78,303.22 397.42,305.6 399.5,308C401.58,310.4 403.32,312.97 404.7,315.2C406.08,317.43 407.47,319.5 407.8,321.4C408.13,323.3 407.57,325.47 406.7,326.6C405.83,327.73 404.15,328.2 402.6,328.2C401.05,328.2 399.47,327.73 397.4,326.6C395.33,325.47 392.62,323.12 390.2,321.4C387.78,319.68 385.32,318.37 382.9,316.3C380.48,314.23 377.93,311.77 375.7,309C373.47,306.23 371.4,302.63 369.5,299.7C367.6,296.77 366.11,294.83 364.3,291.4C362.49,287.97 359.59,281.15 358.65,279.1" fill="none" stroke="#d45a6c" stroke-width="1.1" stroke-linejoin="round"/>
<circle cx="364.2" cy="271.3" r="2.5" fill="url(#gr)"/>
<circle cx="366.4" cy="271.9" r="2.5" fill="url(#gr)"/>
<circle cx="356.3" cy="274.1" r="2.5" fill="url(#gr)"/>
<circle cx="353.1" cy="277.1" r="2.5" fill="url(#gr)"/>
<circle cx="357.7" cy="277.1" r="2.5" fill="url(#gr)"/>
<circle cx="365.6" cy="279.8" r="2.5" fill="url(#gr)"/>
<circle cx="353.9" cy="283.1" r="2.5" fill="url(#gr)"/>
<circle cx="358.2" cy="281.4" r="2.5" fill="url(#gr)"/>
<circle cx="360.4" cy="284.1" r="2.5" fill="url(#gr)"/>
<circle cx="361.5" cy="278.5" r="2.5" fill="url(#gr)"/>
<circle cx="369.6" cy="215.2" r="2.5" fill="url(#gr)"/>
<circle cx="379.5" cy="221.3" r="2.5" fill="url(#gr)"/>
<circle cx="367.1" cy="229.4" r="2.5" fill="url(#gr)"/>
<circle cx="358.4" cy="240.6" r="2.5" fill="url(#gr)"/>
<circle cx="379.8" cy="242.5" r="2.5" fill="url(#gr)"/>
<circle cx="374.4" cy="251.5" r="2.5" fill="url(#gr)"/>
<circle cx="358.4" cy="258.7" r="2.5" fill="url(#gr)"/>
<circle cx="353.6" cy="266.7" r="2.5" fill="url(#gr)"/>
<circle cx="395.1" cy="257.5" r="2.5" fill="url(#gr)"/>
<circle cx="411.5" cy="259.9" r="2.5" fill="url(#gr)"/>
<circle cx="380.3" cy="266.6" r="2.5" fill="url(#gr)"/>
<circle cx="419.6" cy="268" r="2.5" fill="url(#gr)"/>
<circle cx="423.2" cy="267.4" r="2.5" fill="url(#gr)"/>
<circle cx="389.9" cy="279.1" r="2.5" fill="url(#gr)"/>
<circle cx="394.3" cy="279.1" r="2.5" fill="url(#gr)"/>
<circle cx="426.1" cy="254.2" r="2.5" fill="url(#gr)"/>
<circle cx="316.5" cy="229.1" r="2.5" fill="url(#gr)"/>
<circle cx="307.4" cy="236.1" r="2.5" fill="url(#gr)"/>
<circle cx="341.7" cy="250.4" r="2.5" fill="url(#gr)"/>
<circle cx="327" cy="260.8" r="2.5" fill="url(#gr)"/>
<circle cx="354" cy="266.1" r="2.5" fill="url(#gr)"/>
<circle cx="324.3" cy="278.8" r="2.5" fill="url(#gr)"/>
<circle cx="295.7" cy="289.9" r="2.5" fill="url(#gr)"/>
<circle cx="298.6" cy="300.6" r="2.5" fill="url(#gr)"/>
<circle cx="328.4" cy="296.3" r="2.5" fill="url(#gr)"/>
<circle cx="341.8" cy="307.2" r="2.5" fill="url(#gr)"/>
<circle cx="358.3" cy="307.4" r="2.5" fill="url(#gr)"/>
<circle cx="337.5" cy="336.9" r="2.5" fill="url(#gr)"/>
<circle cx="348.3" cy="336.3" r="2.5" fill="url(#gr)"/>
<circle cx="380.3" cy="291.4" r="2.5" fill="url(#gr)"/>
<circle cx="402.1" cy="315.2" r="2.5" fill="url(#gr)"/>
<circle cx="397.9" cy="325.6" r="2.5" fill="url(#gr)"/>
<circle cx="376.7" cy="311.1" r="2.5" fill="url(#gr)"/>
<text transform="translate(238.2,332.3) rotate(-90)" font-size="12.2" fill="#000">SHG Intensity (a.u.)</text>
<text x="235.5" y="197.8" font-size="20.5" text-anchor="start" fill="#000" >e</text>
<circle cx="421" cy="205.4" r="2.6" fill="url(#gr)"/>
<line x1="430.2" y1="209.5" x2="444.2" y2="209.5" stroke="#111" stroke-width="1.3" />
<line x1="437.2" y1="197.9" x2="437.2" y2="209.5" stroke="#111" stroke-width="1.3" />
<rect x="485.5" y="203" width="178" height="143.5" fill="none" stroke="#333" stroke-width="1" />
<line x1="501.4" y1="346.5" x2="501.4" y2="349.5" stroke="#333" stroke-width="1" />
<text x="501.4" y="360.1" font-size="10.7" text-anchor="middle" fill="#000" >300</text>
<line x1="533.9" y1="346.5" x2="533.9" y2="349.5" stroke="#333" stroke-width="1" />
<text x="533.9" y="360.1" font-size="10.7" text-anchor="middle" fill="#000" >400</text>
<line x1="566.4" y1="346.5" x2="566.4" y2="349.5" stroke="#333" stroke-width="1" />
<text x="566.4" y="360.1" font-size="10.7" text-anchor="middle" fill="#000" >500</text>
<line x1="598.9" y1="346.5" x2="598.9" y2="349.5" stroke="#333" stroke-width="1" />
<text x="598.9" y="360.1" font-size="10.7" text-anchor="middle" fill="#000" >600</text>
<line x1="631.4" y1="346.5" x2="631.4" y2="349.5" stroke="#333" stroke-width="1" />
<text x="631.4" y="360.1" font-size="10.7" text-anchor="middle" fill="#000" >700</text>
<line x1="663.9" y1="346.5" x2="663.9" y2="349.5" stroke="#333" stroke-width="1" />
<text x="663.9" y="360.1" font-size="10.7" text-anchor="middle" fill="#000" >800</text>
<line x1="517.65" y1="346.5" x2="517.65" y2="348.5" stroke="#333" stroke-width="1" />
<line x1="550.15" y1="346.5" x2="550.15" y2="348.5" stroke="#333" stroke-width="1" />
<line x1="582.65" y1="346.5" x2="582.65" y2="348.5" stroke="#333" stroke-width="1" />
<line x1="615.15" y1="346.5" x2="615.15" y2="348.5" stroke="#333" stroke-width="1" />
<line x1="647.65" y1="346.5" x2="647.65" y2="348.5" stroke="#333" stroke-width="1" />
<line x1="482.5" y1="339.9" x2="485.5" y2="339.9" stroke="#333" stroke-width="1" />
<text x="480.9" y="343.4" font-size="10.7" text-anchor="end" fill="#000" >0</text>
<line x1="482.5" y1="305.7" x2="485.5" y2="305.7" stroke="#333" stroke-width="1" />
<text x="480.9" y="309.2" font-size="10.7" text-anchor="end" fill="#000" >250</text>
<line x1="482.5" y1="271.5" x2="485.5" y2="271.5" stroke="#333" stroke-width="1" />
<text x="480.9" y="275" font-size="10.7" text-anchor="end" fill="#000" >500</text>
<line x1="482.5" y1="237.3" x2="485.5" y2="237.3" stroke="#333" stroke-width="1" />
<text x="480.9" y="240.8" font-size="10.7" text-anchor="end" fill="#000" >750</text>
<line x1="483.5" y1="322.8" x2="485.5" y2="322.8" stroke="#333" stroke-width="1" />
<line x1="483.5" y1="288.6" x2="485.5" y2="288.6" stroke="#333" stroke-width="1" />
<line x1="483.5" y1="254.4" x2="485.5" y2="254.4" stroke="#333" stroke-width="1" />
<line x1="483.5" y1="220.2" x2="485.5" y2="220.2" stroke="#333" stroke-width="1" />
<text x="574.6" y="373" font-size="12" text-anchor="middle" fill="#000" >Temperature (K)</text>
<text transform="translate(459,326.4) rotate(-90)" font-size="11.85" fill="#000">SHG Intensity (a.u.)</text>
<text x="459.7" y="197.8" font-size="20.5" text-anchor="start" fill="#000" >f</text>
<polyline points="501.5,222.5 517.9,225 533.9,227.5 550.3,228 566.4,234 582.6,255.3 599,318.5 615.3,336.1 631.5,337.7 647.5,337.5" fill="none" stroke="#6b6bd6" stroke-width="1.1" stroke-linejoin="round" />
<circle cx="501.5" cy="222.5" r="2.5" fill="#fff" stroke="#e8534f" stroke-width="1.1"/>
<circle cx="517.9" cy="225" r="2.5" fill="#fff" stroke="#e8534f" stroke-width="1.1"/>
<circle cx="533.9" cy="227.5" r="2.5" fill="#fff" stroke="#e8534f" stroke-width="1.1"/>
<circle cx="550.3" cy="228" r="2.5" fill="#fff" stroke="#e8534f" stroke-width="1.1"/>
<circle cx="566.4" cy="234" r="2.5" fill="#fff" stroke="#e8534f" stroke-width="1.1"/>
<circle cx="582.6" cy="255.3" r="2.5" fill="#fff" stroke="#e8534f" stroke-width="1.1"/>
<circle cx="599" cy="318.5" r="2.5" fill="#fff" stroke="#e8534f" stroke-width="1.1"/>
<circle cx="615.3" cy="336.1" r="2.5" fill="#fff" stroke="#e8534f" stroke-width="1.1"/>
<circle cx="631.5" cy="337.7" r="2.5" fill="#fff" stroke="#e8534f" stroke-width="1.1"/>
<circle cx="647.5" cy="337.5" r="2.5" fill="#fff" stroke="#e8534f" stroke-width="1.1"/>
<text x="605" y="225" font-size="10.5" text-anchor="start" fill="#000" >T<tspan dy="2.6" font-size="6.8">c</tspan><tspan dy="-2.6">~ 650K</tspan></text>
<line x1="41.5" y1="378.5" x2="220" y2="378.5" stroke="#111" stroke-width="1" />
<line x1="41.5" y1="522.5" x2="220" y2="522.5" stroke="#111" stroke-width="1" />
<line x1="41.5" y1="378.5" x2="41.5" y2="522.5" stroke="#6b97d8" stroke-width="1.2" />
<line x1="220" y1="378.5" x2="220" y2="522.5" stroke="#e46a6a" stroke-width="1.2" />
<line x1="42" y1="522.5" x2="42" y2="525.5" stroke="#111" stroke-width="1" />
<text x="42" y="535.9" font-size="10.6" text-anchor="middle" fill="#000" >-8</text>
<line x1="83.6" y1="522.5" x2="83.6" y2="525.5" stroke="#111" stroke-width="1" />
<text x="83.6" y="535.9" font-size="10.6" text-anchor="middle" fill="#000" >-4</text>
<line x1="125.2" y1="522.5" x2="125.2" y2="525.5" stroke="#111" stroke-width="1" />
<text x="125.2" y="535.9" font-size="10.6" text-anchor="middle" fill="#000" >0</text>
<line x1="166.8" y1="522.5" x2="166.8" y2="525.5" stroke="#111" stroke-width="1" />
<text x="166.8" y="535.9" font-size="10.6" text-anchor="middle" fill="#000" >4</text>
<line x1="208.4" y1="522.5" x2="208.4" y2="525.5" stroke="#111" stroke-width="1" />
<text x="208.4" y="535.9" font-size="10.6" text-anchor="middle" fill="#000" >8</text>
<line x1="62.8" y1="522.5" x2="62.8" y2="524.5" stroke="#111" stroke-width="1" />
<line x1="104.4" y1="522.5" x2="104.4" y2="524.5" stroke="#111" stroke-width="1" />
<line x1="146" y1="522.5" x2="146" y2="524.5" stroke="#111" stroke-width="1" />
<line x1="187.6" y1="522.5" x2="187.6" y2="524.5" stroke="#111" stroke-width="1" />
<line x1="41.5" y1="522.5" x2="44.5" y2="522.5" stroke="#6b97d8" stroke-width="1" />
<text x="38.6" y="526" font-size="10.6" text-anchor="end" fill="#5b8bd0" >0</text>
<line x1="41.5" y1="479.2" x2="44.5" y2="479.2" stroke="#6b97d8" stroke-width="1" />
<text x="38.6" y="482.7" font-size="10.6" text-anchor="end" fill="#5b8bd0" >60</text>
<line x1="41.5" y1="435.9" x2="44.5" y2="435.9" stroke="#6b97d8" stroke-width="1" />
<text x="38.6" y="439.4" font-size="10.6" text-anchor="end" fill="#5b8bd0" >120</text>
<line x1="41.5" y1="392.59" x2="44.5" y2="392.59" stroke="#6b97d8" stroke-width="1" />
<text x="38.6" y="396.09" font-size="10.6" text-anchor="end" fill="#5b8bd0" >180</text>
<line x1="41.5" y1="500.85" x2="43.3" y2="500.85" stroke="#6b97d8" stroke-width="1" />
<line x1="41.5" y1="457.55" x2="43.3" y2="457.55" stroke="#6b97d8" stroke-width="1" />
<line x1="41.5" y1="414.25" x2="43.3" y2="414.25" stroke="#6b97d8" stroke-width="1" />
<line x1="217" y1="392.6" x2="220" y2="392.6" stroke="#e46a6a" stroke-width="1" />
<text x="223.2" y="396" font-size="9.9" text-anchor="start" fill="#e05555" >50</text>
<line x1="217" y1="421.6" x2="220" y2="421.6" stroke="#e46a6a" stroke-width="1" />
<text x="223.2" y="425" font-size="9.9" text-anchor="start" fill="#e05555" >0</text>
<line x1="217" y1="450.6" x2="220" y2="450.6" stroke="#e46a6a" stroke-width="1" />
<text x="223.2" y="454" font-size="9.9" text-anchor="start" fill="#e05555" >-50</text>
<line x1="217" y1="479.6" x2="220" y2="479.6" stroke="#e46a6a" stroke-width="1" />
<text x="223.2" y="483" font-size="9.9" text-anchor="start" fill="#e05555" >-100</text>
<line x1="217" y1="508.6" x2="220" y2="508.6" stroke="#e46a6a" stroke-width="1" />
<text x="223.2" y="512" font-size="9.9" text-anchor="start" fill="#e05555" >-150</text>
<line x1="218.2" y1="407.1" x2="220" y2="407.1" stroke="#e46a6a" stroke-width="1" />
<line x1="218.2" y1="436.1" x2="220" y2="436.1" stroke="#e46a6a" stroke-width="1" />
<line x1="218.2" y1="465.1" x2="220" y2="465.1" stroke="#e46a6a" stroke-width="1" />
<line x1="218.2" y1="494.1" x2="220" y2="494.1" stroke="#e46a6a" stroke-width="1" />
<text x="131" y="548.2" font-size="12" text-anchor="middle" fill="#000" >DC bias (V)</text>
<text transform="translate(17.2,489.9) rotate(-90)" font-size="12" fill="#5b8bd0">Amplitude (pm)</text>
<text transform="translate(253.8,482.9) rotate(-90)" font-size="12" fill="#e05555">Phase (deg)</text>
<text x="8.8" y="378.2" font-size="20.5" text-anchor="start" fill="#000" >g</text>
<polyline points="199.3,401.1 193.3,420.4 187.4,432 181.7,437.9 176.1,436.9 170.3,457 164.7,469.9 159,464.5 153.3,487.9 147.4,497.2 141.7,500.8 135.8,510.6 130.1,503.5 124.3,499.2 119,481.8 113.1,463.8 107.3,449.4 101.5,452.5 95.8,442.4 90.2,422.6 84.4,414 78.7,409.7 73,406.4 67.2,399.9 61.4,392.5 55.4,402.1 54.3,406.7" fill="none" stroke="#4f80c6" stroke-width="1.1" stroke-linejoin="round" />
<rect x="197.8" y="399.6" width="3" height="3" fill="#4f80c6"/>
<rect x="191.8" y="418.9" width="3" height="3" fill="#4f80c6"/>
<rect x="185.9" y="430.5" width="3" height="3" fill="#4f80c6"/>
<rect x="180.2" y="436.4" width="3" height="3" fill="#4f80c6"/>
<rect x="174.6" y="435.4" width="3" height="3" fill="#4f80c6"/>
<rect x="168.8" y="455.5" width="3" height="3" fill="#4f80c6"/>
<rect x="163.2" y="468.4" width="3" height="3" fill="#4f80c6"/>
<rect x="157.5" y="463" width="3" height="3" fill="#4f80c6"/>
<rect x="151.8" y="486.4" width="3" height="3" fill="#4f80c6"/>
<rect x="145.9" y="495.7" width="3" height="3" fill="#4f80c6"/>
<rect x="140.2" y="499.3" width="3" height="3" fill="#4f80c6"/>
<rect x="134.3" y="509.1" width="3" height="3" fill="#4f80c6"/>
<rect x="128.6" y="502" width="3" height="3" fill="#4f80c6"/>
<rect x="122.8" y="497.7" width="3" height="3" fill="#4f80c6"/>
<rect x="117.5" y="480.3" width="3" height="3" fill="#4f80c6"/>
<rect x="111.6" y="462.3" width="3" height="3" fill="#4f80c6"/>
<rect x="105.8" y="447.9" width="3" height="3" fill="#4f80c6"/>
<rect x="100" y="451" width="3" height="3" fill="#4f80c6"/>
<rect x="94.3" y="440.9" width="3" height="3" fill="#4f80c6"/>
<rect x="88.7" y="421.1" width="3" height="3" fill="#4f80c6"/>
<rect x="82.9" y="412.5" width="3" height="3" fill="#4f80c6"/>
<rect x="77.2" y="408.2" width="3" height="3" fill="#4f80c6"/>
<rect x="71.5" y="404.9" width="3" height="3" fill="#4f80c6"/>
<rect x="65.7" y="398.4" width="3" height="3" fill="#4f80c6"/>
<rect x="59.9" y="391" width="3" height="3" fill="#4f80c6"/>
<rect x="53.9" y="400.6" width="3" height="3" fill="#4f80c6"/>
<rect x="52.8" y="405.2" width="3" height="3" fill="#4f80c6"/>
<polyline points="54.3,406.7 60.4,420.4 66.1,421.9 71.6,450.4 77.4,456.8 83.3,466.8 89,481.5 94.7,492.4 100.6,501.8 106.3,509.3 112,501.1 117.5,489.3 123.3,475.6 129,465.4 134.8,461.6 140.3,452.5 146.3,444.5 152,434.9 157.9,423.6 163.6,419.5 169.3,417 175.2,401.8 180.9,396.3 186.5,395.9 192.5,394.3 199,398.7 199.3,401.1" fill="none" stroke="#4f80c6" stroke-width="1.1" stroke-linejoin="round" />
<rect x="52.8" y="405.2" width="3" height="3" fill="#4f80c6"/>
<rect x="58.9" y="418.9" width="3" height="3" fill="#4f80c6"/>
<rect x="64.6" y="420.4" width="3" height="3" fill="#4f80c6"/>
<rect x="70.1" y="448.9" width="3" height="3" fill="#4f80c6"/>
<rect x="75.9" y="455.3" width="3" height="3" fill="#4f80c6"/>
<rect x="81.8" y="465.3" width="3" height="3" fill="#4f80c6"/>
<rect x="87.5" y="480" width="3" height="3" fill="#4f80c6"/>
<rect x="93.2" y="490.9" width="3" height="3" fill="#4f80c6"/>
<rect x="99.1" y="500.3" width="3" height="3" fill="#4f80c6"/>
<rect x="104.8" y="507.8" width="3" height="3" fill="#4f80c6"/>
<rect x="110.5" y="499.6" width="3" height="3" fill="#4f80c6"/>
<rect x="116" y="487.8" width="3" height="3" fill="#4f80c6"/>
<rect x="121.8" y="474.1" width="3" height="3" fill="#4f80c6"/>
<rect x="127.5" y="463.9" width="3" height="3" fill="#4f80c6"/>
<rect x="133.3" y="460.1" width="3" height="3" fill="#4f80c6"/>
<rect x="138.8" y="451" width="3" height="3" fill="#4f80c6"/>
<rect x="144.8" y="443" width="3" height="3" fill="#4f80c6"/>
<rect x="150.5" y="433.4" width="3" height="3" fill="#4f80c6"/>
<rect x="156.4" y="422.1" width="3" height="3" fill="#4f80c6"/>
<rect x="162.1" y="418" width="3" height="3" fill="#4f80c6"/>
<rect x="167.8" y="415.5" width="3" height="3" fill="#4f80c6"/>
<rect x="173.7" y="400.3" width="3" height="3" fill="#4f80c6"/>
<rect x="179.4" y="394.8" width="3" height="3" fill="#4f80c6"/>
<rect x="185" y="394.4" width="3" height="3" fill="#4f80c6"/>
<rect x="191" y="392.8" width="3" height="3" fill="#4f80c6"/>
<rect x="197.5" y="397.2" width="3" height="3" fill="#4f80c6"/>
<rect x="197.8" y="399.6" width="3" height="3" fill="#4f80c6"/>
<polyline points="199.3,393.6 193.3,394.7 187.4,399.5 181.3,399.7 175.9,399.7 170.4,403.4 164.3,402.5 157.8,399.7 152,397.7 146.3,403.4 140.5,396.6 134.8,396.6 129,393.6 123.2,397.3 117.5,395.7 111.7,395.7 106.3,463 100.6,490.2 95.8,495.7 90.7,497.4 83.8,497 78.8,494.8 72.7,501.1 67.2,500.1 61.4,494.3 55,495.8" fill="none" stroke="#e04848" stroke-width="1.1" stroke-linejoin="round" />
<rect x="197.8" y="392.1" width="3" height="3" fill="#e04848"/>
<rect x="191.8" y="393.2" width="3" height="3" fill="#e04848"/>
<rect x="185.9" y="398" width="3" height="3" fill="#e04848"/>
<rect x="179.8" y="398.2" width="3" height="3" fill="#e04848"/>
<rect x="174.4" y="398.2" width="3" height="3" fill="#e04848"/>
<rect x="168.9" y="401.9" width="3" height="3" fill="#e04848"/>
<rect x="162.8" y="401" width="3" height="3" fill="#e04848"/>
<rect x="156.3" y="398.2" width="3" height="3" fill="#e04848"/>
<rect x="150.5" y="396.2" width="3" height="3" fill="#e04848"/>
<rect x="144.8" y="401.9" width="3" height="3" fill="#e04848"/>
<rect x="139" y="395.1" width="3" height="3" fill="#e04848"/>
<rect x="133.3" y="395.1" width="3" height="3" fill="#e04848"/>
<rect x="127.5" y="392.1" width="3" height="3" fill="#e04848"/>
<rect x="121.7" y="395.8" width="3" height="3" fill="#e04848"/>
<rect x="116" y="394.2" width="3" height="3" fill="#e04848"/>
<rect x="110.2" y="394.2" width="3" height="3" fill="#e04848"/>
<rect x="104.8" y="461.5" width="3" height="3" fill="#e04848"/>
<rect x="99.1" y="488.7" width="3" height="3" fill="#e04848"/>
<rect x="94.3" y="494.2" width="3" height="3" fill="#e04848"/>
<rect x="89.2" y="495.9" width="3" height="3" fill="#e04848"/>
<rect x="82.3" y="495.5" width="3" height="3" fill="#e04848"/>
<rect x="77.3" y="493.3" width="3" height="3" fill="#e04848"/>
<rect x="71.2" y="499.6" width="3" height="3" fill="#e04848"/>
<rect x="65.7" y="498.6" width="3" height="3" fill="#e04848"/>
<rect x="59.9" y="492.8" width="3" height="3" fill="#e04848"/>
<rect x="53.5" y="494.3" width="3" height="3" fill="#e04848"/>
<polyline points="55,495.8 60.4,498.1 65.9,496.5 71.6,500.8 77.4,496.7 83.3,499.2 89,500.8 94.7,496.2 101.5,498.5 107.4,492.2 113.3,491.6 118.7,501.9 124.4,496.7 130.1,501.1 136.1,492.4 141.6,393.2 147.4,399.5 153.3,399.5 158,399.7 163.3,397 169.3,398.1 175.2,397.4 181,399.5 187,399.5 193.3,394.7 199.3,393.6" fill="none" stroke="#e04848" stroke-width="1.1" stroke-linejoin="round" />
<rect x="53.5" y="494.3" width="3" height="3" fill="#e04848"/>
<rect x="58.9" y="496.6" width="3" height="3" fill="#e04848"/>
<rect x="64.4" y="495" width="3" height="3" fill="#e04848"/>
<rect x="70.1" y="499.3" width="3" height="3" fill="#e04848"/>
<rect x="75.9" y="495.2" width="3" height="3" fill="#e04848"/>
<rect x="81.8" y="497.7" width="3" height="3" fill="#e04848"/>
<rect x="87.5" y="499.3" width="3" height="3" fill="#e04848"/>
<rect x="93.2" y="494.7" width="3" height="3" fill="#e04848"/>
<rect x="100" y="497" width="3" height="3" fill="#e04848"/>
<rect x="105.9" y="490.7" width="3" height="3" fill="#e04848"/>
<rect x="111.8" y="490.1" width="3" height="3" fill="#e04848"/>
<rect x="117.2" y="500.4" width="3" height="3" fill="#e04848"/>
<rect x="122.9" y="495.2" width="3" height="3" fill="#e04848"/>
<rect x="128.6" y="499.6" width="3" height="3" fill="#e04848"/>
<rect x="134.6" y="490.9" width="3" height="3" fill="#e04848"/>
<rect x="140.1" y="391.7" width="3" height="3" fill="#e04848"/>
<rect x="145.9" y="398" width="3" height="3" fill="#e04848"/>
<rect x="151.8" y="398" width="3" height="3" fill="#e04848"/>
<rect x="156.5" y="398.2" width="3" height="3" fill="#e04848"/>
<rect x="161.8" y="395.5" width="3" height="3" fill="#e04848"/>
<rect x="167.8" y="396.6" width="3" height="3" fill="#e04848"/>
<rect x="173.7" y="395.9" width="3" height="3" fill="#e04848"/>
<rect x="179.5" y="398" width="3" height="3" fill="#e04848"/>
<rect x="185.5" y="398" width="3" height="3" fill="#e04848"/>
<rect x="191.8" y="393.2" width="3" height="3" fill="#e04848"/>
<rect x="197.8" y="392.1" width="3" height="3" fill="#e04848"/>
<filter id="tf1" x="264" y="380" width="151" height="139" filterUnits="userSpaceOnUse" color-interpolation-filters="sRGB"><feTurbulence type="fractalNoise" baseFrequency="0.15 0.25" numOctaves="2" seed="17"/><feColorMatrix type="matrix" values="1.42 0 0 0 -0.21 1.42 0 0 0 -0.21 1.42 0 0 0 -0.21 0 0 0 0 1"/><feComponentTransfer><feFuncR type="table" tableValues="0.663 0.663 0.663 0.659 0.659 0.655 0.655 0.651 0.647 0.639 0.631 0.624 0.612 0.596 0.58 0.561 0.541 0.514 0.482 0.451 0.412 0.373 0.333 0.294 0.255 0.216 0.196 0.173 0.153 0.133 0.114 0.098 0.082 0.078 0.075 0.075 0.071 0.071 0.071 0.067 0.067 0.067 0.067 0.067 0.067 0.067 0.067 0.067"/><feFuncG type="table" tableValues="0.067 0.067 0.067 0.067 0.067 0.067 0.067 0.067 0.067 0.067 0.067 0.067 0.067 0.067 0.067 0.063 0.063 0.063 0.063 0.059 0.059 0.055 0.055 0.051 0.047 0.047 0.043 0.043 0.039 0.039 0.035 0.035 0.031 0.031 0.031 0.031 0.027 0.027 0.027 0.027 0.027 0.027 0.027 0.027 0.027 0.027 0.027 0.027"/><feFuncB type="table" tableValues="0.58 0.58 0.58 0.58 0.584 0.584 0.584 0.588 0.588 0.592 0.596 0.604 0.608 0.616 0.624 0.635 0.647 0.659 0.675 0.686 0.702 0.722 0.737 0.753 0.769 0.784 0.796 0.804 0.816 0.824 0.831 0.839 0.843 0.847 0.847 0.851 0.851 0.851 0.851 0.851 0.851 0.851 0.851 0.851 0.851 0.851 0.851 0.851"/></feComponentTransfer></filter>
<rect x="264" y="380" width="151" height="139" filter="url(#tf1)"/>
<filter id="tf2" x="264" y="380" width="151" height="139" filterUnits="userSpaceOnUse" color-interpolation-filters="sRGB"><feTurbulence type="fractalNoise" baseFrequency="0.24 0.4" numOctaves="2" seed="3"/><feColorMatrix type="matrix" values="1.42 0 0 0 -0.21 1.42 0 0 0 -0.21 1.42 0 0 0 -0.21 1.42 0 0 0 -0.21"/><feComponentTransfer><feFuncR type="table" tableValues="0.91 0.91 0.91 0.91 0.91 0.91 0.914 0.914 0.914 0.914 0.918 0.918 0.922 0.925 0.929 0.933 0.937 0.941 0.945 0.949 0.953 0.957 0.953 0.953 0.949 0.949 0.949 0.949 0.949 0.949 0.949 0.949 0.949 0.949 0.949 0.949 0.949 0.949 0.949 0.949 0.949 0.949 0.949 0.949 0.949 0.949 0.949 0.949"/><feFuncG type="table" tableValues="0.357 0.357 0.357 0.357 0.361 0.361 0.365 0.369 0.373 0.38 0.388 0.396 0.408 0.42 0.439 0.459 0.478 0.506 0.537 0.573 0.608 0.659 0.698 0.741 0.765 0.765 0.765 0.765 0.765 0.765 0.765 0.765 0.765 0.765 0.765 0.765 0.765 0.765 0.765 0.765 0.765 0.765 0.765 0.765 0.765 0.765 0.765 0.765"/><feFuncB type="table" tableValues="0.42 0.42 0.42 0.416 0.416 0.416 0.416 0.416 0.412 0.412 0.408 0.408 0.404 0.4 0.396 0.388 0.384 0.376 0.361 0.349 0.333 0.314 0.275 0.231 0.208 0.208 0.208 0.208 0.208 0.208 0.208 0.208 0.208 0.208 0.208 0.208 0.208 0.208 0.208 0.208 0.208 0.208 0.208 0.208 0.208 0.208 0.208 0.208"/><feFuncA type="table" tableValues="1 1 1 1 1 1 1 1 1 1 1 1 1 1 1 1 1 1 1 1 1 1 1 1 0 0 0 0 0 0 0 0 0 0 0 0 0 0 0 0 0 0 0 0 0 0 0 0"/></feComponentTransfer></filter>
<rect x="264" y="380" width="151" height="139" filter="url(#tf2)"/>
<filter id="tf3" x="390" y="440" width="25" height="79" filterUnits="userSpaceOnUse" color-interpolation-filters="sRGB"><feTurbulence type="fractalNoise" baseFrequency="0.15 0.25" numOctaves="2" seed="17"/><feColorMatrix type="matrix" values="1.42 0 0 0 -0.21 1.42 0 0 0 -0.21 1.42 0 0 0 -0.21 0 0 0 0 1"/><feComponentTransfer><feFuncR type="table" tableValues="0.635 0.631 0.631 0.631 0.631 0.631 0.627 0.624 0.624 0.62 0.612 0.608 0.596 0.588 0.576 0.565 0.549 0.529 0.51 0.486 0.459 0.431 0.392 0.333 0.275 0.216 0.188 0.165 0.145 0.125 0.11 0.094 0.082 0.078 0.075 0.075 0.071 0.071 0.071 0.067 0.067 0.067 0.067 0.067 0.067 0.067 0.067 0.067"/><feFuncG type="table" tableValues="0.067 0.067 0.067 0.067 0.067 0.067 0.067 0.067 0.067 0.067 0.067 0.067 0.067 0.067 0.067 0.063 0.063 0.063 0.063 0.063 0.059 0.059 0.055 0.055 0.051 0.047 0.043 0.039 0.039 0.035 0.035 0.031 0.031 0.031 0.031 0.031 0.027 0.027 0.027 0.027 0.027 0.027 0.027 0.027 0.027 0.027 0.027 0.027"/><feFuncB type="table" tableValues="0.596 0.596 0.596 0.596 0.596 0.6 0.6 0.6 0.604 0.604 0.608 0.612 0.616 0.62 0.627 0.635 0.643 0.651 0.663 0.671 0.682 0.694 0.714 0.737 0.761 0.784 0.8 0.808 0.816 0.824 0.831 0.839 0.847 0.847 0.847 0.851 0.851 0.851 0.851 0.851 0.851 0.851 0.851 0.851 0.851 0.851 0.851 0.851"/></feComponentTransfer></filter>
<rect x="390" y="440" width="25" height="79" filter="url(#tf3)"/>
<filter id="tf4" x="390" y="440" width="25" height="79" filterUnits="userSpaceOnUse" color-interpolation-filters="sRGB"><feTurbulence type="fractalNoise" baseFrequency="0.2 0.32" numOctaves="2" seed="3"/><feColorMatrix type="matrix" values="1.42 0 0 0 -0.21 1.42 0 0 0 -0.21 1.42 0 0 0 -0.21 1.42 0 0 0 -0.21"/><feComponentTransfer><feFuncR type="table" tableValues="0.949 0.949 0.949 0.949 0.949 0.949 0.949 0.949 0.949 0.953 0.953 0.953 0.953 0.957 0.957 0.953 0.953 0.949 0.949 0.945 0.945 0.941 0.937 0.929 0.925 0.922 0.914 0.91 0.906 0.902 0.898 0.894 0.886 0.878 0.875 0.867 0.863 0.859 0.855 0.851 0.851 0.847 0.847 0.847 0.847 0.847 0.847 0.847"/><feFuncG type="table" tableValues="0.784 0.78 0.78 0.78 0.776 0.773 0.769 0.761 0.753 0.745 0.729 0.714 0.694 0.671 0.651 0.635 0.616 0.592 0.569 0.545 0.522 0.502 0.478 0.455 0.427 0.404 0.38 0.361 0.337 0.318 0.302 0.286 0.275 0.263 0.255 0.247 0.243 0.239 0.235 0.231 0.227 0.227 0.224 0.224 0.224 0.224 0.224 0.224"/><feFuncB type="table" tableValues="0.188 0.192 0.192 0.192 0.196 0.2 0.204 0.212 0.22 0.227 0.243 0.259 0.278 0.302 0.318 0.322 0.329 0.341 0.349 0.361 0.369 0.376 0.384 0.392 0.396 0.404 0.412 0.416 0.424 0.427 0.435 0.439 0.443 0.447 0.451 0.455 0.459 0.463 0.463 0.467 0.467 0.467 0.471 0.471 0.471 0.471 0.471 0.471"/><feFuncA type="table" tableValues="1 1 1 1 1 1 1 1 1 1 1 1 1 1 1 1 1 1 1 1 1 1 1 1 1 1 0 0 0 0 0 0 0 0 0 0 0 0 0 0 0 0 0 0 0 0 0 0"/></feComponentTransfer></filter>
<rect x="390" y="440" width="25" height="79" filter="url(#tf4)"/>
<filter id="tf5" x="292.5" y="410.5" width="97.5" height="98.5" filterUnits="userSpaceOnUse" color-interpolation-filters="sRGB"><feTurbulence type="fractalNoise" baseFrequency="0.12 0.4" numOctaves="2" seed="3"/><feColorMatrix type="matrix" values="1.42 0 0 0 -0.21 1.42 0 0 0 -0.21 1.42 0 0 0 -0.21 0 0 0 0 1"/><feComponentTransfer><feFuncR type="table" tableValues="0.941 0.941 0.941 0.941 0.941 0.941 0.941 0.941 0.941 0.945 0.945 0.945 0.945 0.949 0.949 0.949 0.949 0.953 0.953 0.953 0.953 0.953 0.957 0.957 0.957 0.957 0.953 0.953 0.953 0.949 0.949 0.945 0.941 0.937 0.933 0.929 0.929 0.925 0.925 0.922 0.922 0.922 0.918 0.918 0.918 0.918 0.918 0.918"/><feFuncG type="table" tableValues="0.82 0.816 0.816 0.816 0.816 0.816 0.816 0.812 0.812 0.808 0.804 0.8 0.796 0.788 0.78 0.769 0.757 0.741 0.725 0.714 0.706 0.694 0.686 0.675 0.663 0.651 0.635 0.62 0.608 0.588 0.561 0.533 0.514 0.49 0.471 0.455 0.439 0.427 0.42 0.412 0.408 0.404 0.4 0.396 0.396 0.396 0.392 0.392"/><feFuncB type="table" tableValues="0.145 0.149 0.149 0.149 0.149 0.149 0.153 0.153 0.157 0.161 0.165 0.169 0.176 0.184 0.192 0.204 0.216 0.231 0.247 0.259 0.267 0.278 0.286 0.298 0.31 0.318 0.322 0.329 0.333 0.341 0.353 0.365 0.373 0.38 0.384 0.388 0.392 0.396 0.4 0.4 0.404 0.404 0.404 0.408 0.408 0.408 0.408 0.408"/></feComponentTransfer></filter>
<rect x="292.5" y="410.5" width="97.5" height="98.5" filter="url(#tf5)"/>
<filter id="tf6" x="292.5" y="440" width="28" height="47" filterUnits="userSpaceOnUse" color-interpolation-filters="sRGB"><feTurbulence type="fractalNoise" baseFrequency="0.12 0.4" numOctaves="2" seed="3"/><feColorMatrix type="matrix" values="1.42 0 0 0 -0.21 1.42 0 0 0 -0.21 1.42 0 0 0 -0.21 0 0 0 0 1"/><feComponentTransfer><feFuncR type="table" tableValues="0.922 0.922 0.922 0.922 0.922 0.922 0.922 0.922 0.922 0.922 0.922 0.922 0.922 0.922 0.925 0.925 0.925 0.925 0.929 0.933 0.933 0.937 0.941 0.945 0.945 0.949 0.949 0.953 0.953 0.953 0.953 0.957 0.957 0.957 0.957 0.953 0.953 0.953 0.953 0.953 0.953 0.953 0.953 0.949 0.949 0.949 0.949 0.949"/><feFuncG type="table" tableValues="0.886 0.886 0.886 0.886 0.886 0.886 0.886 0.886 0.886 0.886 0.886 0.886 0.886 0.886 0.886 0.886 0.886 0.882 0.871 0.859 0.847 0.835 0.824 0.808 0.792 0.776 0.757 0.741 0.722 0.706 0.694 0.682 0.671 0.659 0.647 0.635 0.627 0.62 0.616 0.608 0.608 0.604 0.6 0.6 0.6 0.596 0.596 0.596"/><feFuncB type="table" tableValues="0.055 0.055 0.055 0.055 0.055 0.055 0.059 0.059 0.059 0.059 0.059 0.059 0.059 0.059 0.059 0.063 0.063 0.067 0.082 0.094 0.11 0.125 0.141 0.157 0.176 0.196 0.216 0.231 0.251 0.267 0.278 0.29 0.302 0.314 0.318 0.322 0.325 0.329 0.333 0.333 0.333 0.337 0.337 0.337 0.337 0.337 0.337 0.337"/></feComponentTransfer></filter>
<rect x="292.5" y="440" width="28" height="47" filter="url(#tf6)"/>
<filter id="tf7" x="292.5" y="487" width="97.5" height="22" filterUnits="userSpaceOnUse" color-interpolation-filters="sRGB"><feTurbulence type="fractalNoise" baseFrequency="0.12 0.4" numOctaves="2" seed="3"/><feColorMatrix type="matrix" values="1.42 0 0 0 -0.21 1.42 0 0 0 -0.21 1.42 0 0 0 -0.21 0 0 0 0 1"/><feComponentTransfer><feFuncR type="table" tableValues="0.941 0.941 0.941 0.941 0.941 0.941 0.941 0.941 0.945 0.945 0.945 0.945 0.949 0.949 0.949 0.949 0.953 0.953 0.953 0.957 0.957 0.957 0.957 0.953 0.953 0.949 0.949 0.945 0.945 0.941 0.941 0.933 0.922 0.914 0.906 0.902 0.894 0.886 0.875 0.867 0.863 0.859 0.855 0.851 0.851 0.847 0.847 0.847"/><feFuncG type="table" tableValues="0.82 0.816 0.816 0.816 0.816 0.816 0.812 0.812 0.808 0.804 0.8 0.796 0.788 0.78 0.773 0.757 0.745 0.725 0.71 0.686 0.675 0.663 0.643 0.624 0.604 0.588 0.569 0.549 0.533 0.518 0.502 0.455 0.412 0.373 0.341 0.314 0.29 0.275 0.259 0.251 0.243 0.239 0.231 0.231 0.227 0.227 0.224 0.224"/><feFuncB type="table" tableValues="0.149 0.149 0.149 0.149 0.149 0.149 0.153 0.157 0.157 0.161 0.169 0.173 0.18 0.192 0.2 0.216 0.227 0.247 0.263 0.286 0.298 0.31 0.322 0.329 0.333 0.341 0.349 0.357 0.365 0.369 0.376 0.388 0.404 0.412 0.424 0.431 0.435 0.443 0.451 0.455 0.459 0.463 0.467 0.467 0.467 0.471 0.471 0.471"/></feComponentTransfer></filter>
<rect x="292.5" y="487" width="97.5" height="22" filter="url(#tf7)"/>
<filter id="tf8" x="320.5" y="442" width="48" height="45" filterUnits="userSpaceOnUse" color-interpolation-filters="sRGB"><feTurbulence type="fractalNoise" baseFrequency="0.15 0.25" numOctaves="2" seed="17"/><feColorMatrix type="matrix" values="1.42 0 0 0 -0.21 1.42 0 0 0 -0.21 1.42 0 0 0 -0.21 0 0 0 0 1"/><feComponentTransfer><feFuncR type="table" tableValues="0.635 0.631 0.631 0.631 0.631 0.631 0.627 0.624 0.624 0.62 0.612 0.608 0.596 0.588 0.576 0.565 0.549 0.529 0.51 0.486 0.459 0.431 0.392 0.333 0.275 0.216 0.188 0.165 0.145 0.125 0.11 0.094 0.082 0.078 0.075 0.075 0.071 0.071 0.071 0.067 0.067 0.067 0.067 0.067 0.067 0.067 0.067 0.067"/><feFuncG type="table" tableValues="0.067 0.067 0.067 0.067 0.067 0.067 0.067 0.067 0.067 0.067 0.067 0.067 0.067 0.067 0.067 0.063 0.063 0.063 0.063 0.063 0.059 0.059 0.055 0.055 0.051 0.047 0.043 0.039 0.039 0.035 0.035 0.031 0.031 0.031 0.031 0.031 0.027 0.027 0.027 0.027 0.027 0.027 0.027 0.027 0.027 0.027 0.027 0.027"/><feFuncB type="table" tableValues="0.596 0.596 0.596 0.596 0.596 0.6 0.6 0.6 0.604 0.604 0.608 0.612 0.616 0.62 0.627 0.635 0.643 0.651 0.663 0.671 0.682 0.694 0.714 0.737 0.761 0.784 0.8 0.808 0.816 0.824 0.831 0.839 0.847 0.847 0.847 0.851 0.851 0.851 0.851 0.851 0.851 0.851 0.851 0.851 0.851 0.851 0.851 0.851"/></feComponentTransfer></filter>
<rect x="320.5" y="442" width="48" height="45" filter="url(#tf8)"/>
<filter id="tf9" x="320.5" y="442" width="48" height="45" filterUnits="userSpaceOnUse" color-interpolation-filters="sRGB"><feTurbulence type="fractalNoise" baseFrequency="0.2 0.32" numOctaves="2" seed="3"/><feColorMatrix type="matrix" values="1.42 0 0 0 -0.21 1.42 0 0 0 -0.21 1.42 0 0 0 -0.21 1.42 0 0 0 -0.21"/><feComponentTransfer><feFuncR type="table" tableValues="0.949 0.949 0.949 0.949 0.949 0.949 0.949 0.953 0.953 0.953 0.953 0.953 0.953 0.953 0.957 0.957 0.957 0.953 0.953 0.949 0.945 0.941 0.937 0.929 0.922 0.914 0.91 0.906 0.902 0.898 0.898 0.89 0.882 0.875 0.871 0.863 0.859 0.855 0.855 0.851 0.851 0.847 0.847 0.847 0.847 0.847 0.847 0.847"/><feFuncG type="table" tableValues="0.761 0.761 0.761 0.761 0.761 0.757 0.753 0.753 0.745 0.741 0.733 0.725 0.714 0.702 0.686 0.667 0.647 0.624 0.6 0.576 0.549 0.518 0.486 0.447 0.412 0.38 0.361 0.341 0.325 0.306 0.29 0.278 0.267 0.259 0.251 0.247 0.239 0.235 0.231 0.231 0.227 0.227 0.224 0.224 0.224 0.224 0.224 0.224"/><feFuncB type="table" tableValues="0.212 0.212 0.212 0.212 0.212 0.216 0.22 0.22 0.227 0.231 0.239 0.247 0.259 0.271 0.286 0.306 0.318 0.325 0.337 0.349 0.357 0.369 0.38 0.392 0.404 0.412 0.416 0.424 0.427 0.431 0.435 0.439 0.447 0.451 0.455 0.459 0.463 0.463 0.467 0.467 0.467 0.467 0.471 0.471 0.471 0.471 0.471 0.471"/><feFuncA type="table" tableValues="1 1 1 1 1 1 1 1 1 1 1 1 1 1 1 1 1 1 1 1 1 1 1 1 1 0 0 0 0 0 0 0 0 0 0 0 0 0 0 0 0 0 0 0 0 0 0 0"/></feComponentTransfer></filter>
<rect x="320.5" y="442" width="48" height="45" filter="url(#tf9)"/>
<filter id="tf10" x="486" y="380" width="151" height="138" filterUnits="userSpaceOnUse" color-interpolation-filters="sRGB"><feTurbulence type="fractalNoise" baseFrequency="0.15 0.25" numOctaves="2" seed="19"/><feColorMatrix type="matrix" values="1.42 0 0 0 -0.21 1.42 0 0 0 -0.21 1.42 0 0 0 -0.21 0 0 0 0 1"/><feComponentTransfer><feFuncR type="table" tableValues="0.353 0.353 0.349 0.349 0.349 0.349 0.345 0.341 0.341 0.333 0.329 0.322 0.314 0.306 0.294 0.278 0.263 0.243 0.224 0.208 0.196 0.18 0.165 0.149 0.129 0.114 0.098 0.082 0.075 0.075 0.071 0.071 0.067 0.067 0.063 0.063 0.063 0.059 0.059 0.059 0.059 0.059 0.059 0.059 0.059 0.059 0.059 0.059"/><feFuncG type="table" tableValues="0.055 0.055 0.055 0.055 0.055 0.055 0.055 0.055 0.055 0.055 0.051 0.051 0.051 0.051 0.051 0.051 0.051 0.047 0.047 0.047 0.043 0.043 0.039 0.039 0.035 0.035 0.035 0.031 0.031 0.031 0.027 0.027 0.027 0.027 0.027 0.027 0.027 0.024 0.024 0.024 0.024 0.024 0.024 0.024 0.024 0.024 0.024 0.024"/><feFuncB type="table" tableValues="0.729 0.729 0.729 0.729 0.729 0.729 0.733 0.733 0.733 0.737 0.737 0.741 0.745 0.749 0.753 0.761 0.765 0.773 0.784 0.788 0.796 0.804 0.808 0.816 0.824 0.831 0.839 0.843 0.847 0.851 0.851 0.851 0.851 0.855 0.855 0.855 0.855 0.855 0.855 0.855 0.855 0.855 0.855 0.855 0.855 0.855 0.855 0.855"/></feComponentTransfer></filter>
<rect x="486" y="380" width="151" height="138" filter="url(#tf10)"/>
<filter id="tf11" x="486" y="380" width="151" height="138" filterUnits="userSpaceOnUse" color-interpolation-filters="sRGB"><feTurbulence type="fractalNoise" baseFrequency="0.13 0.24" numOctaves="2" seed="5"/><feColorMatrix type="matrix" values="1.42 0 0 0 -0.21 1.42 0 0 0 -0.21 1.42 0 0 0 -0.21 1.42 0 0 0 -0.21"/><feComponentTransfer><feFuncR type="table" tableValues="0.91 0.91 0.91 0.91 0.91 0.91 0.91 0.91 0.91 0.91 0.91 0.91 0.91 0.914 0.914 0.914 0.914 0.914 0.918 0.918 0.918 0.922 0.922 0.925 0.925 0.929 0.933 0.937 0.941 0.945 0.949 0.949 0.949 0.953 0.953 0.953 0.953 0.953 0.953 0.953 0.953 0.953 0.953 0.953 0.953 0.953 0.953 0.953"/><feFuncG type="table" tableValues="0.882 0.882 0.882 0.882 0.882 0.882 0.882 0.882 0.882 0.882 0.882 0.882 0.882 0.882 0.882 0.882 0.886 0.886 0.886 0.886 0.886 0.886 0.886 0.886 0.886 0.867 0.847 0.827 0.812 0.8 0.784 0.773 0.757 0.749 0.737 0.729 0.725 0.718 0.714 0.71 0.71 0.706 0.706 0.702 0.702 0.702 0.702 0.702"/><feFuncB type="table" tableValues="0.043 0.043 0.043 0.043 0.043 0.043 0.043 0.043 0.043 0.043 0.043 0.043 0.043 0.047 0.047 0.047 0.047 0.051 0.051 0.051 0.055 0.055 0.059 0.059 0.063 0.09 0.114 0.133 0.153 0.173 0.188 0.2 0.216 0.224 0.235 0.243 0.247 0.255 0.259 0.263 0.263 0.267 0.267 0.271 0.271 0.271 0.271 0.271"/><feFuncA type="table" tableValues="1 1 1 1 1 1 1 1 1 1 1 1 1 1 1 1 1 1 1 1 1 1 1 1 1 1 1 0 0 0 0 0 0 0 0 0 0 0 0 0 0 0 0 0 0 0 0 0"/></feComponentTransfer></filter>
<rect x="486" y="380" width="151" height="138" filter="url(#tf11)"/>
<filter id="tf12" x="486" y="380" width="151" height="31.5" filterUnits="userSpaceOnUse" color-interpolation-filters="sRGB"><feTurbulence type="fractalNoise" baseFrequency="0.15 0.25" numOctaves="2" seed="19"/><feColorMatrix type="matrix" values="1.42 0 0 0 -0.21 1.42 0 0 0 -0.21 1.42 0 0 0 -0.21 0 0 0 0 1"/><feComponentTransfer><feFuncR type="table" tableValues="0.545 0.545 0.545 0.545 0.545 0.541 0.541 0.537 0.537 0.533 0.525 0.522 0.514 0.502 0.49 0.478 0.463 0.443 0.424 0.4 0.376 0.353 0.325 0.298 0.271 0.247 0.22 0.204 0.188 0.176 0.165 0.153 0.145 0.133 0.129 0.122 0.118 0.114 0.11 0.106 0.106 0.102 0.102 0.102 0.102 0.098 0.098 0.098"/><feFuncG type="table" tableValues="0.063 0.063 0.063 0.063 0.063 0.063 0.063 0.063 0.063 0.063 0.063 0.063 0.063 0.063 0.063 0.059 0.059 0.059 0.059 0.055 0.055 0.055 0.051 0.051 0.051 0.047 0.047 0.047 0.043 0.043 0.039 0.039 0.039 0.039 0.035 0.035 0.035 0.035 0.035 0.035 0.035 0.035 0.035 0.035 0.035 0.035 0.035 0.035"/><feFuncB type="table" tableValues="0.643 0.643 0.643 0.643 0.643 0.647 0.647 0.647 0.651 0.651 0.655 0.659 0.659 0.667 0.671 0.675 0.682 0.69 0.698 0.71 0.718 0.729 0.741 0.749 0.761 0.773 0.784 0.792 0.796 0.804 0.808 0.816 0.82 0.824 0.824 0.827 0.831 0.831 0.835 0.835 0.835 0.835 0.835 0.835 0.839 0.839 0.839 0.839"/></feComponentTransfer></filter>
<rect x="486" y="380" width="151" height="31.5" filter="url(#tf12)"/>
<filter id="tf13" x="486" y="380" width="151" height="31.5" filterUnits="userSpaceOnUse" color-interpolation-filters="sRGB"><feTurbulence type="fractalNoise" baseFrequency="0.13 0.24" numOctaves="2" seed="5"/><feColorMatrix type="matrix" values="1.42 0 0 0 -0.21 1.42 0 0 0 -0.21 1.42 0 0 0 -0.21 1.42 0 0 0 -0.21"/><feComponentTransfer><feFuncR type="table" tableValues="0.914 0.914 0.914 0.914 0.914 0.914 0.914 0.914 0.914 0.914 0.914 0.914 0.914 0.914 0.918 0.918 0.918 0.918 0.918 0.922 0.922 0.922 0.925 0.929 0.937 0.941 0.945 0.949 0.949 0.949 0.949 0.953 0.953 0.953 0.953 0.953 0.953 0.953 0.953 0.953 0.953 0.953 0.953 0.953 0.953 0.953 0.953 0.953"/><feFuncG type="table" tableValues="0.882 0.882 0.882 0.882 0.882 0.882 0.882 0.882 0.882 0.886 0.886 0.886 0.886 0.886 0.886 0.886 0.886 0.886 0.886 0.886 0.886 0.886 0.886 0.867 0.839 0.812 0.796 0.784 0.776 0.765 0.753 0.745 0.737 0.729 0.725 0.718 0.714 0.71 0.71 0.706 0.706 0.706 0.702 0.702 0.702 0.702 0.702 0.702"/><feFuncB type="table" tableValues="0.047 0.047 0.047 0.047 0.047 0.047 0.047 0.047 0.047 0.047 0.047 0.047 0.047 0.051 0.051 0.051 0.051 0.055 0.055 0.055 0.059 0.059 0.063 0.09 0.122 0.153 0.173 0.184 0.196 0.208 0.22 0.227 0.235 0.243 0.247 0.255 0.259 0.263 0.263 0.267 0.267 0.267 0.271 0.271 0.271 0.271 0.271 0.271"/><feFuncA type="table" tableValues="1 1 1 1 1 1 1 1 1 1 1 1 1 1 1 1 1 1 1 1 1 1 1 1 1 1 0 0 0 0 0 0 0 0 0 0 0 0 0 0 0 0 0 0 0 0 0 0"/></feComponentTransfer></filter>
<rect x="486" y="380" width="151" height="31.5" filter="url(#tf13)"/>
<filter id="tf14" x="610.5" y="440" width="26.5" height="78" filterUnits="userSpaceOnUse" color-interpolation-filters="sRGB"><feTurbulence type="fractalNoise" baseFrequency="0.15 0.25" numOctaves="2" seed="19"/><feColorMatrix type="matrix" values="1.42 0 0 0 -0.21 1.42 0 0 0 -0.21 1.42 0 0 0 -0.21 0 0 0 0 1"/><feComponentTransfer><feFuncR type="table" tableValues="0.416 0.416 0.416 0.416 0.416 0.412 0.412 0.408 0.404 0.4 0.396 0.388 0.38 0.369 0.357 0.345 0.329 0.31 0.29 0.267 0.243 0.22 0.204 0.188 0.173 0.153 0.137 0.125 0.11 0.094 0.082 0.078 0.075 0.075 0.071 0.071 0.071 0.071 0.067 0.067 0.067 0.067 0.067 0.067 0.067 0.067 0.067 0.067"/><feFuncG type="table" tableValues="0.059 0.059 0.059 0.059 0.059 0.059 0.059 0.059 0.055 0.055 0.055 0.055 0.055 0.055 0.055 0.055 0.051 0.051 0.051 0.051 0.047 0.047 0.047 0.043 0.043 0.039 0.039 0.035 0.035 0.031 0.031 0.031 0.031 0.031 0.027 0.027 0.027 0.027 0.027 0.027 0.027 0.027 0.027 0.027 0.027 0.027 0.027 0.027"/><feFuncB type="table" tableValues="0.702 0.702 0.702 0.702 0.702 0.702 0.702 0.706 0.706 0.706 0.71 0.714 0.718 0.722 0.725 0.733 0.737 0.745 0.753 0.765 0.773 0.784 0.792 0.8 0.808 0.812 0.82 0.827 0.835 0.839 0.843 0.847 0.847 0.851 0.851 0.851 0.851 0.851 0.851 0.851 0.851 0.851 0.851 0.851 0.851 0.851 0.851 0.851"/></feComponentTransfer></filter>
<rect x="610.5" y="440" width="26.5" height="78" filter="url(#tf14)"/>
<filter id="tf15" x="610.5" y="440" width="26.5" height="78" filterUnits="userSpaceOnUse" color-interpolation-filters="sRGB"><feTurbulence type="fractalNoise" baseFrequency="0.13 0.24" numOctaves="2" seed="5"/><feColorMatrix type="matrix" values="1.42 0 0 0 -0.21 1.42 0 0 0 -0.21 1.42 0 0 0 -0.21 1.42 0 0 0 -0.21"/><feComponentTransfer><feFuncR type="table" tableValues="0.914 0.914 0.914 0.914 0.914 0.914 0.914 0.914 0.914 0.914 0.914 0.914 0.914 0.918 0.918 0.918 0.918 0.918 0.922 0.922 0.922 0.925 0.925 0.929 0.937 0.941 0.945 0.945 0.949 0.949 0.953 0.953 0.953 0.953 0.953 0.957 0.957 0.957 0.957 0.957 0.957 0.957 0.957 0.957 0.957 0.957 0.957 0.957"/><feFuncG type="table" tableValues="0.882 0.882 0.882 0.882 0.882 0.882 0.882 0.882 0.882 0.886 0.886 0.886 0.886 0.886 0.886 0.886 0.886 0.886 0.886 0.886 0.886 0.886 0.878 0.863 0.843 0.827 0.808 0.792 0.776 0.761 0.745 0.729 0.718 0.706 0.698 0.69 0.682 0.678 0.671 0.671 0.667 0.663 0.663 0.663 0.659 0.659 0.659 0.659"/><feFuncB type="table" tableValues="0.047 0.047 0.047 0.047 0.047 0.047 0.047 0.047 0.047 0.047 0.047 0.047 0.047 0.051 0.051 0.051 0.055 0.055 0.055 0.059 0.059 0.063 0.075 0.094 0.114 0.137 0.157 0.176 0.196 0.212 0.227 0.243 0.255 0.267 0.275 0.282 0.29 0.294 0.302 0.302 0.306 0.31 0.31 0.31 0.314 0.314 0.314 0.314"/><feFuncA type="table" tableValues="1 1 1 1 1 1 1 1 1 1 1 1 1 1 1 1 1 1 1 1 1 1 1 1 1 1 1 1 1 1 1 0 0 0 0 0 0 0 0 0 0 0 0 0 0 0 0 0"/></feComponentTransfer></filter>
<rect x="610.5" y="440" width="26.5" height="78" filter="url(#tf15)"/>
<filter id="tf16" x="514.5" y="411.5" width="96" height="97.5" filterUnits="userSpaceOnUse" color-interpolation-filters="sRGB"><feTurbulence type="fractalNoise" baseFrequency="0.35 0.55" numOctaves="2" seed="5"/><feColorMatrix type="matrix" values="1.42 0 0 0 -0.21 1.42 0 0 0 -0.21 1.42 0 0 0 -0.21 0 0 0 0 1"/><feComponentTransfer><feFuncR type="table" tableValues="0.941 0.941 0.941 0.941 0.941 0.937 0.937 0.937 0.937 0.933 0.929 0.929 0.925 0.922 0.914 0.91 0.902 0.894 0.878 0.859 0.843 0.824 0.804 0.78 0.761 0.745 0.725 0.71 0.69 0.671 0.655 0.643 0.624 0.596 0.576 0.557 0.541 0.529 0.522 0.51 0.506 0.498 0.494 0.49 0.49 0.486 0.486 0.486"/><feFuncG type="table" tableValues="0.502 0.498 0.498 0.498 0.494 0.49 0.486 0.482 0.475 0.467 0.455 0.443 0.424 0.404 0.376 0.349 0.318 0.282 0.263 0.239 0.22 0.196 0.169 0.145 0.122 0.098 0.078 0.071 0.071 0.071 0.067 0.067 0.067 0.067 0.067 0.063 0.063 0.063 0.063 0.063 0.063 0.063 0.063 0.063 0.063 0.063 0.063 0.063"/><feFuncB type="table" tableValues="0.376 0.376 0.376 0.376 0.38 0.38 0.38 0.38 0.384 0.388 0.388 0.392 0.4 0.404 0.412 0.42 0.431 0.439 0.451 0.463 0.475 0.486 0.498 0.51 0.522 0.533 0.545 0.557 0.565 0.576 0.584 0.592 0.6 0.616 0.627 0.639 0.647 0.651 0.659 0.663 0.663 0.667 0.667 0.671 0.671 0.671 0.671 0.671"/></feComponentTransfer></filter>
<rect x="514.5" y="411.5" width="96" height="97.5" filter="url(#tf16)"/>
<filter id="tf17" x="514.5" y="432" width="96" height="9" filterUnits="userSpaceOnUse" color-interpolation-filters="sRGB"><feTurbulence type="fractalNoise" baseFrequency="0.35 0.55" numOctaves="2" seed="5"/><feColorMatrix type="matrix" values="1.42 0 0 0 -0.21 1.42 0 0 0 -0.21 1.42 0 0 0 -0.21 0 0 0 0 1"/><feComponentTransfer><feFuncR type="table" tableValues="0.843 0.843 0.843 0.843 0.843 0.843 0.839 0.839 0.835 0.831 0.827 0.824 0.816 0.808 0.8 0.788 0.776 0.765 0.749 0.733 0.714 0.694 0.671 0.647 0.624 0.604 0.584 0.565 0.545 0.529 0.514 0.498 0.482 0.471 0.459 0.451 0.443 0.439 0.431 0.427 0.427 0.424 0.424 0.42 0.42 0.42 0.42 0.42"/><feFuncG type="table" tableValues="0.22 0.22 0.22 0.22 0.22 0.216 0.216 0.212 0.212 0.208 0.2 0.196 0.188 0.176 0.169 0.153 0.141 0.122 0.106 0.086 0.071 0.071 0.067 0.067 0.067 0.067 0.067 0.063 0.063 0.063 0.063 0.063 0.063 0.059 0.059 0.059 0.059 0.059 0.059 0.059 0.059 0.059 0.059 0.059 0.059 0.059 0.059 0.059"/><feFuncB type="table" tableValues="0.471 0.471 0.471 0.471 0.471 0.475 0.475 0.475 0.478 0.478 0.482 0.486 0.49 0.494 0.498 0.506 0.514 0.522 0.529 0.541 0.553 0.565 0.576 0.588 0.6 0.612 0.624 0.635 0.643 0.651 0.663 0.667 0.675 0.678 0.682 0.686 0.69 0.694 0.694 0.694 0.698 0.698 0.698 0.698 0.698 0.702 0.702 0.702"/></feComponentTransfer></filter>
<rect x="514.5" y="432" width="96" height="9" filter="url(#tf17)"/>
<filter id="tf18" x="514.5" y="441" width="27" height="68" filterUnits="userSpaceOnUse" color-interpolation-filters="sRGB"><feTurbulence type="fractalNoise" baseFrequency="0.25 0.45" numOctaves="2" seed="5"/><feColorMatrix type="matrix" values="1.42 0 0 0 -0.21 1.42 0 0 0 -0.21 1.42 0 0 0 -0.21 0 0 0 0 1"/><feComponentTransfer><feFuncR type="table" tableValues="0.949 0.949 0.949 0.949 0.945 0.945 0.945 0.945 0.945 0.945 0.945 0.941 0.941 0.937 0.933 0.929 0.922 0.914 0.906 0.898 0.882 0.863 0.839 0.82 0.796 0.776 0.753 0.733 0.706 0.663 0.627 0.596 0.565 0.502 0.353 0.227 0.196 0.173 0.153 0.141 0.129 0.122 0.114 0.11 0.106 0.102 0.102 0.102"/><feFuncG type="table" tableValues="0.565 0.565 0.561 0.561 0.561 0.557 0.553 0.549 0.545 0.537 0.529 0.518 0.506 0.486 0.467 0.439 0.412 0.376 0.341 0.298 0.267 0.243 0.216 0.188 0.165 0.137 0.11 0.086 0.071 0.067 0.067 0.067 0.063 0.063 0.055 0.047 0.043 0.043 0.039 0.039 0.035 0.035 0.035 0.035 0.035 0.035 0.035 0.035"/><feFuncB type="table" tableValues="0.353 0.353 0.353 0.353 0.353 0.353 0.357 0.357 0.361 0.361 0.365 0.369 0.376 0.38 0.388 0.396 0.404 0.412 0.424 0.435 0.447 0.459 0.475 0.486 0.502 0.514 0.529 0.541 0.557 0.58 0.6 0.616 0.631 0.667 0.729 0.78 0.796 0.804 0.812 0.82 0.824 0.827 0.831 0.831 0.835 0.835 0.835 0.835"/></feComponentTransfer></filter>
<rect x="514.5" y="441" width="27" height="68" filter="url(#tf18)"/>
<filter id="tf19" x="541.5" y="440.5" width="47.5" height="46" filterUnits="userSpaceOnUse" color-interpolation-filters="sRGB"><feTurbulence type="fractalNoise" baseFrequency="0.15 0.25" numOctaves="2" seed="19"/><feColorMatrix type="matrix" values="1.42 0 0 0 -0.21 1.42 0 0 0 -0.21 1.42 0 0 0 -0.21 0 0 0 0 1"/><feComponentTransfer><feFuncR type="table" tableValues="0.416 0.416 0.416 0.416 0.416 0.412 0.412 0.408 0.404 0.4 0.396 0.388 0.38 0.369 0.357 0.345 0.329 0.31 0.29 0.267 0.243 0.22 0.204 0.188 0.173 0.153 0.137 0.125 0.11 0.094 0.082 0.078 0.075 0.075 0.071 0.071 0.071 0.071 0.067 0.067 0.067 0.067 0.067 0.067 0.067 0.067 0.067 0.067"/><feFuncG type="table" tableValues="0.059 0.059 0.059 0.059 0.059 0.059 0.059 0.059 0.055 0.055 0.055 0.055 0.055 0.055 0.055 0.055 0.051 0.051 0.051 0.051 0.047 0.047 0.047 0.043 0.043 0.039 0.039 0.035 0.035 0.031 0.031 0.031 0.031 0.031 0.027 0.027 0.027 0.027 0.027 0.027 0.027 0.027 0.027 0.027 0.027 0.027 0.027 0.027"/><feFuncB type="table" tableValues="0.702 0.702 0.702 0.702 0.702 0.702 0.702 0.706 0.706 0.706 0.71 0.714 0.718 0.722 0.725 0.733 0.737 0.745 0.753 0.765 0.773 0.784 0.792 0.8 0.808 0.812 0.82 0.827 0.835 0.839 0.843 0.847 0.847 0.851 0.851 0.851 0.851 0.851 0.851 0.851 0.851 0.851 0.851 0.851 0.851 0.851 0.851 0.851"/></feComponentTransfer></filter>
<rect x="541.5" y="440.5" width="47.5" height="46" filter="url(#tf19)"/>
<filter id="tf20" x="541.5" y="440.5" width="47.5" height="46" filterUnits="userSpaceOnUse" color-interpolation-filters="sRGB"><feTurbulence type="fractalNoise" baseFrequency="0.13 0.24" numOctaves="2" seed="5"/><feColorMatrix type="matrix" values="1.42 0 0 0 -0.21 1.42 0 0 0 -0.21 1.42 0 0 0 -0.21 1.42 0 0 0 -0.21"/><feComponentTransfer><feFuncR type="table" tableValues="0.914 0.914 0.914 0.914 0.914 0.914 0.914 0.914 0.914 0.914 0.914 0.914 0.914 0.914 0.918 0.918 0.918 0.918 0.918 0.922 0.922 0.922 0.925 0.925 0.929 0.933 0.941 0.949 0.949 0.953 0.953 0.953 0.953 0.953 0.957 0.957 0.957 0.957 0.957 0.957 0.957 0.957 0.957 0.957 0.957 0.957 0.957 0.957"/><feFuncG type="table" tableValues="0.882 0.882 0.882 0.882 0.882 0.882 0.882 0.882 0.882 0.886 0.886 0.886 0.886 0.886 0.886 0.886 0.886 0.886 0.886 0.886 0.886 0.886 0.886 0.886 0.871 0.843 0.82 0.792 0.765 0.741 0.725 0.714 0.706 0.698 0.69 0.682 0.678 0.675 0.671 0.667 0.667 0.663 0.663 0.663 0.659 0.659 0.659 0.659"/><feFuncB type="table" tableValues="0.047 0.047 0.047 0.047 0.047 0.047 0.047 0.047 0.047 0.047 0.047 0.047 0.047 0.051 0.051 0.051 0.051 0.051 0.055 0.055 0.059 0.059 0.059 0.063 0.078 0.114 0.145 0.176 0.208 0.231 0.247 0.259 0.267 0.275 0.282 0.29 0.294 0.298 0.302 0.306 0.306 0.31 0.31 0.31 0.314 0.314 0.314 0.314"/><feFuncA type="table" tableValues="1 1 1 1 1 1 1 1 1 1 1 1 1 1 1 1 1 1 1 1 1 1 1 1 1 1 1 1 1 0 0 0 0 0 0 0 0 0 0 0 0 0 0 0 0 0 0 0"/></feComponentTransfer></filter>
<rect x="541.5" y="440.5" width="47.5" height="46" filter="url(#tf20)"/>
<rect x="292.5" y="410.8" width="97.2" height="98.2" fill="none" stroke="#fff" stroke-width="1.25" stroke-dasharray="9.5 3.2"/>
<rect x="320.7" y="442.3" width="47.5" height="44.7" fill="none" stroke="#fff" stroke-width="1.25" stroke-dasharray="9.5 3.2"/>
<rect x="514.3" y="411.5" width="96.1" height="97.3" fill="none" stroke="#fff" stroke-width="1.25" stroke-dasharray="9.5 3.2"/>
<rect x="542.3" y="440.8" width="46.9" height="45.7" fill="none" stroke="#fff" stroke-width="1.25" stroke-dasharray="9.5 3.2"/>
<text x="301" y="432.6" font-size="14" text-anchor="start" fill="#2222e0" stroke="#2222e0" stroke-width="0.35">-7 V</text>
<text x="331.5" y="468" font-size="14" text-anchor="start" fill="#fff" stroke="#fff" stroke-width="0.3">+7 V</text>
<text x="525" y="432.6" font-size="14" text-anchor="start" fill="#fff" stroke="#fff" stroke-width="0.3">-7 V</text>
<text x="548.5" y="469.3" font-size="14" text-anchor="start" fill="#fff" stroke="#fff" stroke-width="0.3">+7 V</text>
<defs><linearGradient id="cb" x1="0" y1="0" x2="0" y2="1"><stop offset="0" stop-color="rgb(2, 2, 224)"/><stop offset="0.17" stop-color="rgb(20, 8, 216)"/><stop offset="0.24" stop-color="rgb(56, 12, 200)"/><stop offset="0.33" stop-color="rgb(132, 16, 168)"/><stop offset="0.4" stop-color="rgb(184, 18, 140)"/><stop offset="0.47" stop-color="rgb(228, 72, 112)"/><stop offset="0.53" stop-color="rgb(240, 128, 96)"/><stop offset="0.58" stop-color="rgb(244, 168, 80)"/><stop offset="0.64" stop-color="rgb(242, 200, 48)"/><stop offset="0.7" stop-color="rgb(236, 226, 16)"/><stop offset="1" stop-color="rgb(224, 224, 0)"/></linearGradient></defs>
<rect x="438.3" y="408.8" width="11.6" height="73" fill="url(#cb)" stroke="#222" stroke-width="0.8" />
<rect x="656.4" y="408.7" width="11.2" height="72.9" fill="url(#cb)" stroke="#222" stroke-width="0.8" />
<text x="442.4" y="407.1" font-size="10" text-anchor="middle" fill="#000" >-15.5 deg</text>
<text x="442.2" y="491.3" font-size="10" text-anchor="middle" fill="#000" >-175.9 deg</text>
<text x="660.2" y="406.8" font-size="10.4" text-anchor="middle" fill="#000" >43.5 mV</text>
<text x="660.1" y="490.8" font-size="10.4" text-anchor="middle" fill="#000" >-4.2 mV</text>
<text x="346.2" y="538" font-size="14" text-anchor="middle" fill="#000" >Phase</text>
<text x="569.8" y="538" font-size="14" text-anchor="middle" fill="#000" >Amplitude</text>
<text x="235.8" y="377.7" font-size="20.5" text-anchor="start" fill="#000" >h</text>
<text x="460.8" y="377.7" font-size="20.5" text-anchor="start" fill="#000" >i</text>
</svg></body></html>
